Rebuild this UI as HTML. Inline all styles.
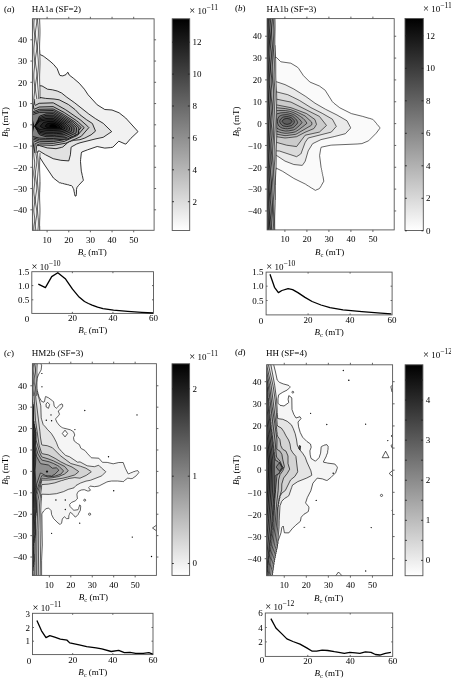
<!DOCTYPE html><html><head><meta charset="utf-8"><style>html,body{margin:0;padding:0;background:#fff;overflow:hidden}</style></head><body><svg width="451" height="678" viewBox="0 0 451 678" style="display:block;font-family:'Liberation Serif',serif;">
<rect width="451" height="678" fill="#fff"/>
<defs>
<clipPath id="clipa"><rect x="32.4" y="18.8" width="121.70" height="211.50"/></clipPath>
<linearGradient id="grada" x1="0" y1="1" x2="0" y2="0"><stop offset="0" stop-color="#fff"/><stop offset="1" stop-color="#000"/></linearGradient>
<clipPath id="clipb"><rect x="267.1" y="18.6" width="127.10" height="211.30"/></clipPath>
<linearGradient id="gradb" x1="0" y1="1" x2="0" y2="0"><stop offset="0" stop-color="#fff"/><stop offset="1" stop-color="#000"/></linearGradient>
<clipPath id="clipc"><rect x="32.4" y="363.7" width="124.00" height="211.70"/></clipPath>
<linearGradient id="gradc" x1="0" y1="1" x2="0" y2="0"><stop offset="0" stop-color="#fff"/><stop offset="1" stop-color="#000"/></linearGradient>
<clipPath id="clipd"><rect x="266.7" y="364.8" width="125.90" height="210.90"/></clipPath>
<linearGradient id="gradd" x1="0" y1="1" x2="0" y2="0"><stop offset="0" stop-color="#fff"/><stop offset="1" stop-color="#000"/></linearGradient>
</defs>
<g clip-path="url(#clipa)">
<path d="M39.6 233.6 22.0 233.6 22.0 16.0 39.6 16.0 39.2 16.4 39.2 23.6 38.8 24.0 38.8 40.8 38.8 42.0 39.2 42.4 39.3 49.6 39.6 50.0 39.7 54.0 40.4 54.7 43.2 56.0 44.8 57.2 50.0 61.2 53.6 64.4 57.2 68.7 59.7 75.2 60.0 75.5 62.8 75.9 66.0 74.6 67.6 72.4 68.0 72.3 69.2 75.0 73.6 78.4 79.2 83.2 84.4 89.2 88.1 94.8 97.2 104.8 104.8 109.5 112.0 110.0 119.1 112.8 125.7 118.0 138.0 131.6 130.8 138.4 126.0 144.0 125.2 144.0 118.8 141.2 112.8 147.2 110.5 147.6 104.8 148.1 97.2 146.5 87.6 149.8 81.8 152.0 81.3 153.2 80.6 159.6 80.5 161.6 81.3 171.2 82.0 174.0 82.1 175.2 82.4 175.7 83.0 178.8 83.2 179.2 83.3 180.4 78.4 185.6 76.9 187.6 76.5 189.6 76.4 194.4 76.0 196.0 75.2 196.1 74.8 195.2 74.7 194.0 74.4 193.3 74.3 192.0 74.0 191.3 73.9 190.0 73.6 188.8 73.2 188.4 72.3 186.4 71.6 185.7 69.2 185.2 68.8 184.9 67.8 184.8 67.2 184.5 64.6 184.0 64.0 183.7 62.8 183.6 62.4 183.3 61.2 183.2 60.8 182.9 59.6 182.8 53.4 178.0 44.0 164.0 39.2 156.4 38.9 160.4 38.8 174.0 39.2 174.4 39.2 181.6 39.6 182.0 39.6 191.6 39.2 192.0 39.2 199.6 38.8 200.0 38.8 218.0 39.2 218.4 39.2 225.6 39.6 226.0 39.6 233.6Z" fill="#f1f1f1" fill-rule="evenodd" stroke="#000" stroke-width="0.8" stroke-linejoin="round"/>
<path d="M37.6 233.6 22.0 233.6 22.0 16.0 37.6 16.0 37.1 32.8 37.7 54.8 37.1 78.8 37.2 83.6 37.6 85.7 42.0 85.9 47.5 89.2 52.4 89.8 57.2 91.0 61.6 93.0 66.8 97.2 74.8 102.9 88.8 114.0 95.7 118.8 103.2 123.3 111.7 131.6 103.2 137.3 96.0 138.8 80.0 142.8 76.7 144.0 71.6 146.8 71.1 147.2 70.4 154.8 68.8 160.9 60.8 160.3 53.2 158.7 45.6 154.8 39.6 151.2 39.2 151.0 38.0 151.0 37.7 152.0 37.2 158.8 37.1 164.0 37.7 185.6 37.1 208.8 37.6 227.2 37.6 233.6Z" fill="#e1e1e1" fill-rule="evenodd" stroke="#000" stroke-width="0.8" stroke-linejoin="round"/>
<path d="M35.6 233.6 22.0 233.6 22.0 16.0 35.6 16.0 35.3 33.2 35.6 56.4 35.3 78.4 35.6 94.8 36.0 97.2 39.2 97.3 45.6 98.4 54.0 99.0 59.2 99.8 68.4 104.5 75.1 109.6 80.0 114.8 86.4 119.6 92.4 123.5 95.4 130.8 95.4 131.2 91.1 134.8 84.9 138.0 80.0 139.7 73.2 140.4 72.4 140.8 71.6 140.8 70.4 141.6 69.6 141.6 68.4 142.4 68.0 142.4 62.8 147.0 61.6 147.4 56.0 148.7 47.2 147.9 40.9 146.0 40.0 145.9 39.6 145.6 36.7 145.6 36.5 146.4 35.3 161.2 35.6 186.0 35.3 208.8 35.6 233.6Z" fill="#d1d1d1" fill-rule="evenodd" stroke="#000" stroke-width="0.8" stroke-linejoin="round"/>
<path d="M33.6 233.6 22.0 233.6 22.0 16.0 33.6 16.0 33.5 77.2 33.6 94.8 34.8 104.7 35.0 105.2 35.2 105.3 35.6 105.2 39.2 103.3 53.2 102.8 53.6 103.0 65.6 109.7 80.8 120.2 87.8 126.4 88.9 127.6 81.2 136.4 74.0 139.6 72.4 140.1 71.2 140.8 70.8 140.8 70.4 141.2 69.6 141.2 69.2 141.6 68.8 141.6 68.4 142.0 68.0 142.0 67.6 142.4 65.8 143.2 53.2 145.4 39.2 144.9 35.6 143.5 35.2 143.6 33.5 160.0 33.6 233.6Z" fill="#c1c1c1" fill-rule="evenodd" stroke="#000" stroke-width="0.8" stroke-linejoin="round"/>
<path d="M31.2 233.6 22.0 233.6 22.0 16.0 31.6 16.0 31.6 94.8 33.9 109.2 34.3 109.2 39.2 107.0 53.2 106.6 64.4 112.6 76.4 120.6 78.4 122.2 84.2 127.6 77.6 135.3 64.0 141.5 53.2 143.4 39.6 143.1 34.4 141.2 34.0 141.6 31.7 160.0 31.6 233.6 31.2 233.6Z" fill="#b1b1b1" fill-rule="evenodd" stroke="#000" stroke-width="0.8" stroke-linejoin="round"/>
<path d="M29.2 233.6 22.0 233.6 22.0 16.0 29.6 16.0 29.9 33.2 29.6 56.4 29.9 77.2 29.6 94.8 31.3 102.8 32.4 110.0 32.9 111.2 33.2 111.6 33.6 111.5 39.2 109.3 53.2 109.0 63.2 114.2 74.8 121.8 80.9 127.2 81.1 127.6 78.8 130.4 78.6 133.6 78.4 133.8 78.0 133.8 77.6 134.2 77.2 134.3 76.8 134.7 76.4 134.7 76.0 135.1 74.8 135.5 74.4 135.9 74.0 135.9 73.6 136.3 73.2 136.3 72.8 136.6 72.4 136.7 72.0 137.0 71.2 137.1 70.0 137.9 69.6 137.9 69.2 138.3 68.8 138.3 68.4 138.7 68.0 138.7 67.6 139.0 64.8 139.2 64.4 139.6 63.2 139.9 53.2 141.6 39.6 141.3 33.6 139.4 33.4 139.6 32.4 142.0 31.1 152.0 29.8 160.0 29.6 187.2 29.9 211.6 29.6 233.6 29.2 233.6Z" fill="#a1a1a1" fill-rule="evenodd" stroke="#000" stroke-width="0.8" stroke-linejoin="round"/>
<path d="M27.2 233.6 22.0 233.6 22.0 16.0 27.6 16.0 28.1 33.2 27.5 56.4 28.1 77.2 27.6 94.8 29.6 102.8 31.0 110.0 32.3 112.8 32.4 113.0 33.6 112.8 39.6 110.8 53.2 110.5 62.2 115.2 73.2 122.3 78.9 127.6 78.8 129.2 78.4 130.4 78.4 133.6 78.0 133.6 77.6 134.0 77.2 134.0 76.8 134.4 76.4 134.4 76.0 134.8 74.8 135.2 74.4 135.6 74.0 135.6 73.6 136.0 73.2 136.0 72.8 136.4 72.4 136.4 72.0 136.8 71.2 136.8 70.0 137.6 69.6 137.6 69.2 138.0 68.8 138.0 68.4 138.4 68.0 138.4 67.6 138.8 64.8 138.9 64.4 139.2 53.2 140.0 39.6 139.7 33.6 138.0 32.7 138.0 30.9 142.0 29.3 152.8 28.0 160.0 28.0 168.4 27.5 187.2 28.1 210.8 27.6 226.4 27.6 233.6 27.2 233.6Z" fill="#919191" fill-rule="evenodd" stroke="#000" stroke-width="0.8" stroke-linejoin="round"/>
<path d="M25.2 233.6 22.0 233.6 22.0 16.0 25.6 16.0 26.3 33.2 25.6 50.4 25.5 56.4 26.3 77.2 25.6 94.8 28.0 103.1 29.6 110.0 31.6 114.0 32.0 114.4 33.6 114.3 39.4 112.4 53.2 112.1 61.5 116.4 70.9 122.4 76.6 127.6 76.2 132.4 76.0 133.0 66.0 137.6 53.2 138.5 45.6 138.4 39.2 138.1 34.0 136.8 33.6 136.5 32.4 136.4 32.0 136.8 30.8 139.6 29.5 142.0 27.5 153.6 26.2 160.0 26.2 168.4 25.5 187.2 26.2 204.4 26.2 210.8 25.6 226.4 25.5 233.6 25.2 233.6Z" fill="#818181" fill-rule="evenodd" stroke="#000" stroke-width="0.8" stroke-linejoin="round"/>
<path d="M23.2 233.6 22.0 233.6 22.0 16.0 23.6 16.0 24.4 30.8 24.4 37.2 23.6 49.6 23.5 55.2 23.6 60.8 24.4 72.4 24.4 78.4 23.6 94.8 26.4 103.3 28.3 110.0 30.2 113.2 31.6 116.8 33.9 126.0 32.5 132.0 31.4 135.6 29.8 139.2 28.0 142.0 25.7 154.0 24.3 160.0 24.4 168.4 23.6 181.6 23.5 187.2 23.6 192.8 24.4 204.4 24.4 210.4 23.6 226.8 23.5 233.6 23.2 233.6ZM54.8 136.8 46.0 136.7 40.0 135.0 39.3 134.4 37.6 131.6 37.6 131.2 37.2 130.8 37.2 130.4 35.6 128.0 35.6 127.6 35.2 127.2 35.2 126.8 34.8 126.4 34.8 126.0 35.2 125.6 35.2 125.2 36.0 124.0 36.5 122.4 37.2 121.2 37.2 120.8 37.6 120.4 37.6 120.0 38.0 119.6 38.9 117.2 39.6 116.1 46.0 113.9 53.2 113.6 60.8 117.5 69.6 123.1 74.2 127.6 73.8 132.0 73.3 132.4 64.8 136.1 54.8 136.8Z" fill="#707070" fill-rule="evenodd" stroke="#000" stroke-width="0.8" stroke-linejoin="round"/>
<path d="M22.0 44.6 22.0 21.4 22.5 28.0 22.6 32.8 22.5 38.0 22.0 44.6ZM22.0 88.5 22.0 65.4 22.5 72.0 22.6 76.8 22.5 82.0 22.0 88.5ZM22.0 176.5 22.0 96.1 24.8 103.4 26.9 110.0 29.0 113.2 30.7 116.8 31.9 120.8 33.1 126.0 32.0 130.8 30.5 135.2 28.8 138.8 26.6 142.0 23.9 154.4 22.5 160.0 22.6 167.6 22.0 176.5ZM56.4 135.2 53.2 135.4 46.0 135.2 39.6 133.6 36.1 128.0 34.9 126.4 35.0 126.0 35.6 125.1 39.6 117.5 46.0 115.4 53.2 115.2 60.0 118.6 67.6 123.4 71.9 127.6 71.5 131.2 71.1 131.6 63.6 134.7 56.4 135.2ZM22.0 220.5 22.0 197.3 22.5 204.0 22.6 208.8 22.5 214.0 22.0 220.5Z" fill="#606060" fill-rule="evenodd" stroke="#000" stroke-width="0.8" stroke-linejoin="round"/>
<path d="M22.0 155.4 22.0 100.6 25.5 110.0 27.9 113.2 29.7 116.8 31.1 120.8 32.4 126.0 31.2 130.8 29.5 135.2 27.6 138.8 25.1 142.0 22.0 155.4ZM56.8 133.6 53.2 133.8 46.0 133.7 40.0 132.4 39.2 131.8 35.0 126.4 35.1 126.0 39.6 118.7 46.0 116.9 53.5 116.8 59.0 119.6 66.0 123.9 69.6 127.6 69.2 130.4 68.8 130.8 62.4 133.2 56.8 133.6Z" fill="#505050" fill-rule="evenodd" stroke="#000" stroke-width="0.8" stroke-linejoin="round"/>
<path d="M22.0 148.5 22.0 104.6 24.1 110.0 26.8 113.2 28.8 116.8 30.4 120.9 31.7 126.0 30.4 130.8 28.5 135.2 26.4 138.8 23.6 142.0 22.0 148.5ZM59.2 132.0 53.2 132.3 46.0 132.2 40.0 131.2 39.2 130.7 35.1 126.4 35.6 125.5 39.6 119.9 46.0 118.5 53.2 118.3 58.0 120.6 64.0 124.2 67.2 127.6 66.8 129.6 66.5 130.0 61.2 131.8 59.2 132.0Z" fill="#404040" fill-rule="evenodd" stroke="#000" stroke-width="0.8" stroke-linejoin="round"/>
<path d="M22.0 142.7 22.0 108.2 22.7 110.0 25.6 113.1 27.9 116.8 29.6 120.8 31.1 126.0 29.6 130.8 27.8 134.8 25.6 138.2 24.0 140.2 22.2 142.0 22.0 142.7ZM60.0 130.1 53.2 130.4 46.0 130.3 39.8 129.6 36.9 127.6 35.6 126.5 35.2 126.4 36.0 125.2 39.6 121.2 46.0 119.9 53.2 119.8 57.2 121.7 62.0 124.5 64.8 127.5 64.4 128.9 60.0 130.1Z" fill="#303030" fill-rule="evenodd" stroke="#000" stroke-width="0.8" stroke-linejoin="round"/>
<path d="M22.0 140.9 22.0 110.5 24.8 113.5 27.0 116.8 28.8 120.8 30.4 126.0 28.9 130.4 27.0 134.4 24.8 137.8 22.0 140.9ZM57.6 128.8 48.0 128.9 43.6 128.4 40.2 126.4 40.4 125.9 43.5 122.4 48.0 121.5 53.2 121.4 56.4 122.8 60.4 125.0 62.5 127.6 62.0 128.2 59.6 128.7 57.6 128.8Z" fill="#202020" fill-rule="evenodd" stroke="#000" stroke-width="0.8" stroke-linejoin="round"/>
<path d="M22.0 139.6 22.0 111.7 24.4 114.4 26.5 117.6 28.2 121.2 29.8 126.0 28.3 130.0 26.6 133.6 24.4 136.8 22.0 139.6ZM60.0 127.6 57.2 127.9 50.0 127.9 47.2 127.6 45.2 126.4 45.3 126.0 47.2 123.7 50.0 123.1 53.2 123.0 55.8 124.0 58.8 125.6 60.0 127.2 60.0 127.6Z" fill="#101010" fill-rule="evenodd" stroke="#000" stroke-width="0.8" stroke-linejoin="round"/>
<path d="M22.0 138.3 22.0 112.9 24.3 115.6 26.1 118.4 27.8 122.0 29.1 126.0 27.7 129.6 26.1 132.8 24.3 135.6 22.0 138.3ZM56.8 127.2 53.2 127.2 50.4 126.9 49.7 126.4 49.7 126.0 50.4 125.0 50.7 124.8 53.2 124.5 54.8 125.1 56.4 126.0 56.8 126.8 56.8 127.2Z" fill="#000000" fill-rule="evenodd" stroke="#000" stroke-width="0.8" stroke-linejoin="round"/>
<linearGradient id="ega1" gradientUnits="userSpaceOnUse" x1="32.4" y1="0" x2="39.8" y2="0"><stop offset="0" stop-color="#e6e6e6"/><stop offset="1" stop-color="#fbfbfb"/></linearGradient><polygon points="30.4,16.0 39.8,16.0 39.8,17.0 39.8,18.0 39.8,19.0 39.8,20.0 39.8,21.0 39.8,22.0 39.8,23.0 39.8,24.0 39.8,25.0 39.8,26.0 39.8,27.0 39.8,28.0 39.8,29.0 39.8,30.0 39.8,31.0 39.8,32.0 39.8,33.0 39.8,34.0 39.8,35.0 39.8,36.0 39.8,37.0 39.8,38.0 39.8,39.0 39.8,40.0 39.8,41.0 39.8,42.0 39.8,43.0 39.8,44.0 39.8,45.0 39.8,46.0 39.8,47.0 39.8,48.0 39.8,49.0 39.8,50.0 39.8,51.0 39.8,52.0 39.8,53.0 39.8,54.0 39.8,55.0 39.8,56.0 39.8,57.0 39.8,58.0 39.8,59.0 39.8,60.0 39.8,61.0 39.8,62.0 39.8,63.0 39.8,64.0 39.8,65.0 39.8,66.0 39.8,67.0 39.8,68.0 39.8,69.0 39.8,70.0 39.8,71.0 39.8,72.0 39.8,73.0 39.8,74.0 39.8,75.0 39.8,76.0 39.8,77.0 39.8,78.0 39.8,79.0 39.8,80.0 39.8,81.0 39.8,82.0 39.8,83.0 39.8,84.0 39.8,85.0 39.8,86.0 39.8,87.0 39.8,88.0 39.8,89.0 39.8,90.0 39.8,91.0 39.8,92.0 39.8,93.0 39.8,94.0 39.8,95.0 39.8,96.0 39.8,97.0 39.8,98.0 39.8,99.0 30.4,99.0" fill="url(#ega1)"/><polyline points="39.59,16.0 39.59,17.0 39.60,18.0 39.62,19.0 39.65,20.0 39.68,21.0 39.72,22.0 39.76,23.0 39.80,24.0 39.85,25.0 39.89,26.0 39.92,27.0 39.96,28.0 39.98,29.0 40.00,30.0 40.01,31.0 40.01,32.0 40.00,33.0 39.98,34.0 39.96,35.0 39.93,36.0 39.89,37.0 39.85,38.0 39.81,39.0 39.77,40.0 39.73,41.0 39.69,42.0 39.65,43.0 39.63,44.0 39.61,45.0 39.59,46.0 39.59,47.0 39.59,48.0 39.61,49.0 39.63,50.0 39.66,51.0 39.69,52.0 39.73,53.0 39.77,54.0 39.82,55.0 39.86,56.0 39.90,57.0 39.93,58.0 39.96,59.0 39.99,60.0 40.00,61.0 40.01,62.0 40.01,63.0 40.00,64.0 39.98,65.0 39.95,66.0 39.92,67.0 39.88,68.0 39.84,69.0 39.80,70.0 39.76,71.0 39.72,72.0 39.68,73.0 39.65,74.0 39.62,75.0 39.60,76.0 39.59,77.0 39.59,78.0 39.60,79.0 39.61,80.0 39.64,81.0 39.67,82.0 39.70,83.0 39.74,84.0 39.78,85.0 39.83,86.0 39.87,87.0 39.91,88.0 39.94,89.0 39.97,90.0 39.99,91.0 40.01,92.0 40.01,93.0 40.01,94.0 39.99,95.0 39.97,96.0 39.94,97.0 39.91,98.0 39.87,99.0" fill="none" stroke="#000" stroke-width="0.6"/><polyline points="37.51,16.0 37.50,17.0 37.50,18.0 37.53,19.0 37.57,20.0 37.63,21.0 37.70,22.0 37.78,23.0 37.86,24.0 37.95,25.0 38.04,26.0 38.13,27.0 38.21,28.0 38.28,29.0 38.34,30.0 38.38,31.0 38.40,32.0 38.40,33.0 38.39,34.0 38.36,35.0 38.32,36.0 38.25,37.0 38.18,38.0 38.10,39.0 38.01,40.0 37.92,41.0 37.83,42.0 37.75,43.0 37.67,44.0 37.60,45.0 37.55,46.0 37.52,47.0 37.50,48.0 37.50,49.0 37.51,50.0 37.55,51.0 37.60,52.0 37.66,53.0 37.74,54.0 37.82,55.0 37.91,56.0 38.01,57.0 38.09,58.0 38.18,59.0 38.25,60.0 38.31,61.0 38.36,62.0 38.39,63.0 38.40,64.0 38.40,65.0 38.38,66.0 38.34,67.0 38.28,68.0 38.22,69.0 38.14,70.0 38.05,71.0 37.96,72.0 37.87,73.0 37.78,74.0 37.70,75.0 37.63,76.0 37.57,77.0 37.53,78.0 37.50,79.0 37.50,80.0 37.50,81.0 37.53,82.0 37.58,83.0 37.63,84.0 37.71,85.0 37.79,86.0 37.87,87.0 37.96,88.0 38.05,89.0 38.14,90.0 38.22,91.0 38.29,92.0 38.34,93.0 38.38,94.0 38.40,95.0 38.40,96.0 38.39,97.0 38.36,98.0 38.31,99.0" fill="none" stroke="#000" stroke-width="0.6"/><polyline points="36.46,16.0 36.59,17.0 36.69,18.0 36.76,19.0 36.80,20.0 36.79,21.0 36.75,22.0 36.68,23.0 36.57,24.0 36.44,25.0 36.28,26.0 36.12,27.0 35.96,28.0 35.80,29.0 35.66,30.0 35.55,31.0 35.46,32.0 35.41,33.0 35.40,34.0 35.43,35.0 35.49,36.0 35.58,37.0 35.71,38.0 35.85,39.0 36.01,40.0 36.17,41.0 36.33,42.0 36.48,43.0 36.61,44.0 36.71,45.0 36.77,46.0 36.80,47.0 36.79,48.0 36.74,49.0 36.66,50.0 36.55,51.0 36.41,52.0 36.26,53.0 36.09,54.0 35.93,55.0 35.78,56.0 35.64,57.0 35.53,58.0 35.45,59.0 35.41,60.0 35.40,61.0 35.43,62.0 35.50,63.0 35.60,64.0 35.73,65.0 35.88,66.0 36.04,67.0 36.20,68.0 36.36,69.0 36.51,70.0 36.63,71.0 36.72,72.0 36.78,73.0 36.80,74.0 36.78,75.0 36.73,76.0 36.64,77.0 36.52,78.0 36.38,79.0 36.23,80.0 36.06,81.0 35.90,82.0 35.75,83.0 35.62,84.0 35.51,85.0 35.44,86.0 35.40,87.0 35.41,88.0 35.44,89.0 35.52,90.0 35.63,91.0 35.76,92.0 35.91,93.0 36.07,94.0 36.23,95.0 36.39,96.0 36.53,97.0 36.65,98.0 36.73,99.0" fill="none" stroke="#000" stroke-width="0.6"/><polyline points="34.53,16.0 34.43,17.0 34.32,18.0 34.21,19.0 34.10,20.0 34.00,21.0 33.92,22.0 33.85,23.0 33.81,24.0 33.80,25.0 33.81,26.0 33.85,27.0 33.91,28.0 34.00,29.0 34.10,30.0 34.21,31.0 34.32,32.0 34.43,33.0 34.53,34.0 34.61,35.0 34.66,36.0 34.70,37.0 34.70,38.0 34.68,39.0 34.63,40.0 34.56,41.0 34.47,42.0 34.37,43.0 34.26,44.0 34.15,45.0 34.04,46.0 33.95,47.0 33.87,48.0 33.82,49.0 33.80,50.0 33.80,51.0 33.83,52.0 33.88,53.0 33.96,54.0 34.06,55.0 34.16,56.0 34.27,57.0 34.39,58.0 34.49,59.0 34.58,60.0 34.64,61.0 34.69,62.0 34.70,63.0 34.69,64.0 34.66,65.0 34.60,66.0 34.51,67.0 34.41,68.0 34.30,69.0 34.19,70.0 34.08,71.0 33.98,72.0 33.90,73.0 33.84,74.0 33.80,75.0 33.80,76.0 33.81,77.0 33.86,78.0 33.93,79.0 34.02,80.0 34.12,81.0 34.23,82.0 34.34,83.0 34.45,84.0 34.54,85.0 34.62,86.0 34.67,87.0 34.70,88.0 34.70,89.0 34.68,90.0 34.62,91.0 34.55,92.0 34.46,93.0 34.35,94.0 34.24,95.0 34.13,96.0 34.02,97.0 33.93,98.0 33.86,99.0" fill="none" stroke="#000" stroke-width="0.6"/><polyline points="32.50,16.0 32.55,17.0 32.59,18.0 32.61,19.0 32.61,20.0 32.59,21.0 32.55,22.0 32.50,23.0 32.44,24.0 32.37,25.0 32.31,26.0 32.26,27.0 32.22,28.0 32.19,29.0 32.19,30.0 32.21,31.0 32.24,32.0 32.29,33.0 32.35,34.0 32.41,35.0 32.48,36.0 32.53,37.0 32.58,38.0 32.60,39.0 32.61,40.0 32.60,41.0 32.57,42.0 32.52,43.0 32.46,44.0 32.40,45.0 32.34,46.0 32.28,47.0 32.23,48.0 32.20,49.0 32.19,50.0 32.20,51.0 32.22,52.0 32.27,53.0 32.32,54.0 32.39,55.0 32.45,56.0 32.51,57.0 32.56,58.0 32.59,59.0 32.61,60.0 32.61,61.0 32.58,62.0 32.54,63.0 32.49,64.0 32.43,65.0 32.36,66.0 32.30,67.0 32.25,68.0 32.21,69.0 32.19,70.0 32.19,71.0 32.21,72.0 32.25,73.0 32.30,74.0 32.36,75.0 32.42,76.0 32.49,77.0 32.54,78.0 32.58,79.0 32.60,80.0 32.61,81.0 32.59,82.0 32.56,83.0 32.51,84.0 32.45,85.0 32.39,86.0 32.33,87.0 32.27,88.0 32.23,89.0 32.20,90.0 32.19,91.0 32.20,92.0 32.23,93.0 32.28,94.0 32.33,95.0 32.40,96.0 32.46,97.0 32.52,98.0 32.57,99.0" fill="none" stroke="#000" stroke-width="0.6"/><linearGradient id="ega2" gradientUnits="userSpaceOnUse" x1="32.4" y1="0" x2="39.8" y2="0"><stop offset="0" stop-color="#e6e6e6"/><stop offset="1" stop-color="#fbfbfb"/></linearGradient><polygon points="30.4,153.0 39.8,153.0 39.8,154.0 39.8,155.0 39.8,156.0 39.8,157.0 39.8,158.0 39.8,159.0 39.8,160.0 39.8,161.0 39.8,162.0 39.8,163.0 39.8,164.0 39.8,165.0 39.8,166.0 39.8,167.0 39.8,168.0 39.8,169.0 39.8,170.0 39.8,171.0 39.8,172.0 39.8,173.0 39.8,174.0 39.8,175.0 39.8,176.0 39.8,177.0 39.8,178.0 39.8,179.0 39.8,180.0 39.8,181.0 39.8,182.0 39.8,183.0 39.8,184.0 39.8,185.0 39.8,186.0 39.8,187.0 39.8,188.0 39.8,189.0 39.8,190.0 39.8,191.0 39.8,192.0 39.8,193.0 39.8,194.0 39.8,195.0 39.8,196.0 39.8,197.0 39.8,198.0 39.8,199.0 39.8,200.0 39.8,201.0 39.8,202.0 39.8,203.0 39.8,204.0 39.8,205.0 39.8,206.0 39.8,207.0 39.8,208.0 39.8,209.0 39.8,210.0 39.8,211.0 39.8,212.0 39.8,213.0 39.8,214.0 39.8,215.0 39.8,216.0 39.8,217.0 39.8,218.0 39.8,219.0 39.8,220.0 39.8,221.0 39.8,222.0 39.8,223.0 39.8,224.0 39.8,225.0 39.8,226.0 39.8,227.0 39.8,228.0 39.8,229.0 39.8,230.0 39.8,231.0 39.8,232.0 39.8,233.0 39.8,234.0 30.4,234.0" fill="url(#ega2)"/><polyline points="40.00,153.0 39.99,154.0 39.96,155.0 39.93,156.0 39.90,157.0 39.85,158.0 39.81,159.0 39.76,160.0 39.72,161.0 39.68,162.0 39.65,163.0 39.62,164.0 39.60,165.0 39.59,166.0 39.59,167.0 39.60,168.0 39.62,169.0 39.64,170.0 39.68,171.0 39.72,172.0 39.76,173.0 39.81,174.0 39.85,175.0 39.89,176.0 39.93,177.0 39.96,178.0 39.99,179.0 40.00,180.0 40.01,181.0 40.01,182.0 39.99,183.0 39.97,184.0 39.95,185.0 39.91,186.0 39.87,187.0 39.83,188.0 39.78,189.0 39.74,190.0 39.70,191.0 39.66,192.0 39.63,193.0 39.61,194.0 39.59,195.0 39.59,196.0 39.60,197.0 39.61,198.0 39.63,199.0 39.67,200.0 39.70,201.0 39.75,202.0 39.79,203.0 39.83,204.0 39.88,205.0 39.92,206.0 39.95,207.0 39.98,208.0 40.00,209.0 40.01,210.0 40.01,211.0 40.00,212.0 39.98,213.0 39.96,214.0 39.92,215.0 39.88,216.0 39.84,217.0 39.80,218.0 39.75,219.0 39.71,220.0 39.67,221.0 39.64,222.0 39.61,223.0 39.60,224.0 39.59,225.0 39.59,226.0 39.60,227.0 39.63,228.0 39.65,229.0 39.69,230.0 39.73,231.0 39.77,232.0 39.82,233.0 39.86,234.0" fill="none" stroke="#000" stroke-width="0.6"/><polyline points="37.52,153.0 37.57,154.0 37.63,155.0 37.71,156.0 37.80,157.0 37.90,158.0 38.00,159.0 38.10,160.0 38.19,161.0 38.27,162.0 38.33,163.0 38.38,164.0 38.40,165.0 38.40,166.0 38.39,167.0 38.35,168.0 38.29,169.0 38.21,170.0 38.12,171.0 38.03,172.0 37.93,173.0 37.83,174.0 37.74,175.0 37.65,176.0 37.59,177.0 37.53,178.0 37.50,179.0 37.50,180.0 37.51,181.0 37.54,182.0 37.60,183.0 37.67,184.0 37.75,185.0 37.85,186.0 37.95,187.0 38.05,188.0 38.14,189.0 38.23,190.0 38.30,191.0 38.35,192.0 38.39,193.0 38.40,194.0 38.40,195.0 38.37,196.0 38.32,197.0 38.25,198.0 38.17,199.0 38.08,200.0 37.98,201.0 37.88,202.0 37.78,203.0 37.69,204.0 37.62,205.0 37.56,206.0 37.52,207.0 37.50,208.0 37.50,209.0 37.52,210.0 37.57,211.0 37.63,212.0 37.71,213.0 37.80,214.0 37.90,215.0 38.00,216.0 38.09,217.0 38.19,218.0 38.27,219.0 38.33,220.0 38.38,221.0 38.40,222.0 38.40,223.0 38.39,224.0 38.35,225.0 38.29,226.0 38.21,227.0 38.12,228.0 38.03,229.0 37.93,230.0 37.83,231.0 37.74,232.0 37.65,233.0 37.59,234.0" fill="none" stroke="#000" stroke-width="0.6"/><polyline points="35.79,153.0 35.95,154.0 36.12,155.0 36.29,156.0 36.45,157.0 36.59,158.0 36.69,159.0 36.77,160.0 36.80,161.0 36.79,162.0 36.74,163.0 36.65,164.0 36.53,165.0 36.38,166.0 36.22,167.0 36.05,168.0 35.88,169.0 35.73,170.0 35.60,171.0 35.49,172.0 35.43,173.0 35.40,174.0 35.42,175.0 35.47,176.0 35.56,177.0 35.69,178.0 35.84,179.0 36.00,180.0 36.17,181.0 36.34,182.0 36.49,183.0 36.62,184.0 36.72,185.0 36.78,186.0 36.80,187.0 36.78,188.0 36.72,189.0 36.62,190.0 36.49,191.0 36.34,192.0 36.17,193.0 36.00,194.0 35.84,195.0 35.69,196.0 35.56,197.0 35.47,198.0 35.42,199.0 35.40,200.0 35.43,201.0 35.49,202.0 35.60,203.0 35.73,204.0 35.88,205.0 36.05,206.0 36.22,207.0 36.38,208.0 36.53,209.0 36.65,210.0 36.74,211.0 36.79,212.0 36.80,213.0 36.77,214.0 36.69,215.0 36.59,216.0 36.45,217.0 36.29,218.0 36.12,219.0 35.95,220.0 35.79,221.0 35.65,222.0 35.53,223.0 35.45,224.0 35.41,225.0 35.40,226.0 35.44,227.0 35.52,228.0 35.63,229.0 35.77,230.0 35.93,231.0 36.10,232.0 36.27,233.0 36.43,234.0" fill="none" stroke="#000" stroke-width="0.6"/><polyline points="33.83,153.0 33.80,154.0 33.82,155.0 33.89,156.0 34.00,157.0 34.14,158.0 34.29,159.0 34.43,160.0 34.56,161.0 34.65,162.0 34.70,163.0 34.70,164.0 34.64,165.0 34.55,166.0 34.41,167.0 34.27,168.0 34.11,169.0 33.98,170.0 33.87,171.0 33.81,172.0 33.80,173.0 33.83,174.0 33.92,175.0 34.04,176.0 34.18,177.0 34.34,178.0 34.48,179.0 34.60,180.0 34.67,181.0 34.70,182.0 34.68,183.0 34.62,184.0 34.51,185.0 34.37,186.0 34.22,187.0 34.07,188.0 33.94,189.0 33.85,190.0 33.80,191.0 33.80,192.0 33.86,193.0 33.95,194.0 34.08,195.0 34.23,196.0 34.38,197.0 34.52,198.0 34.63,199.0 34.69,200.0 34.70,201.0 34.67,202.0 34.58,203.0 34.46,204.0 34.32,205.0 34.17,206.0 34.02,207.0 33.91,208.0 33.83,209.0 33.80,210.0 33.81,211.0 33.88,212.0 33.99,213.0 34.13,214.0 34.28,215.0 34.43,216.0 34.56,217.0 34.65,218.0 34.70,219.0 34.70,220.0 34.65,221.0 34.55,222.0 34.42,223.0 34.27,224.0 34.12,225.0 33.98,226.0 33.88,227.0 33.81,228.0 33.80,229.0 33.83,230.0 33.91,231.0 34.03,232.0 34.18,233.0 34.33,234.0" fill="none" stroke="#000" stroke-width="0.6"/><polyline points="32.56,153.0 32.53,154.0 32.48,155.0 32.43,156.0 32.38,157.0 32.33,158.0 32.28,159.0 32.24,160.0 32.21,161.0 32.20,162.0 32.19,163.0 32.20,164.0 32.22,165.0 32.25,166.0 32.29,167.0 32.34,168.0 32.39,169.0 32.44,170.0 32.49,171.0 32.54,172.0 32.57,173.0 32.60,174.0 32.61,175.0 32.61,176.0 32.59,177.0 32.57,178.0 32.53,179.0 32.49,180.0 32.44,181.0 32.39,182.0 32.33,183.0 32.29,184.0 32.25,185.0 32.22,186.0 32.20,187.0 32.19,188.0 32.20,189.0 32.22,190.0 32.25,191.0 32.29,192.0 32.33,193.0 32.38,194.0 32.44,195.0 32.49,196.0 32.53,197.0 32.57,198.0 32.59,199.0 32.61,200.0 32.61,201.0 32.60,202.0 32.57,203.0 32.54,204.0 32.49,205.0 32.45,206.0 32.39,207.0 32.34,208.0 32.29,209.0 32.25,210.0 32.22,211.0 32.20,212.0 32.19,213.0 32.19,214.0 32.21,215.0 32.24,216.0 32.28,217.0 32.33,218.0 32.38,219.0 32.43,220.0 32.48,221.0 32.53,222.0 32.56,223.0 32.59,224.0 32.61,225.0 32.61,226.0 32.60,227.0 32.58,228.0 32.54,229.0 32.50,230.0 32.45,231.0 32.40,232.0 32.35,233.0 32.30,234.0" fill="none" stroke="#000" stroke-width="0.6"/>
</g>
<g stroke="#555" stroke-width="0.9" fill="none">
<rect x="32.4" y="18.8" width="121.70" height="211.50"/>
<line x1="47.10" y1="230.3" x2="47.10" y2="232.3"/>
<line x1="47.10" y1="18.8" x2="47.10" y2="16.8"/>
<line x1="68.75" y1="230.3" x2="68.75" y2="232.3"/>
<line x1="68.75" y1="18.8" x2="68.75" y2="16.8"/>
<line x1="90.40" y1="230.3" x2="90.40" y2="232.3"/>
<line x1="90.40" y1="18.8" x2="90.40" y2="16.8"/>
<line x1="112.05" y1="230.3" x2="112.05" y2="232.3"/>
<line x1="112.05" y1="18.8" x2="112.05" y2="16.8"/>
<line x1="133.70" y1="230.3" x2="133.70" y2="232.3"/>
<line x1="133.70" y1="18.8" x2="133.70" y2="16.8"/>
<line x1="32.4" y1="209.80" x2="30.4" y2="209.80"/>
<line x1="154.1" y1="209.80" x2="156.1" y2="209.80"/>
<line x1="32.4" y1="188.55" x2="30.4" y2="188.55"/>
<line x1="154.1" y1="188.55" x2="156.1" y2="188.55"/>
<line x1="32.4" y1="167.30" x2="30.4" y2="167.30"/>
<line x1="154.1" y1="167.30" x2="156.1" y2="167.30"/>
<line x1="32.4" y1="146.05" x2="30.4" y2="146.05"/>
<line x1="154.1" y1="146.05" x2="156.1" y2="146.05"/>
<line x1="32.4" y1="124.80" x2="30.4" y2="124.80"/>
<line x1="154.1" y1="124.80" x2="156.1" y2="124.80"/>
<line x1="32.4" y1="103.55" x2="30.4" y2="103.55"/>
<line x1="154.1" y1="103.55" x2="156.1" y2="103.55"/>
<line x1="32.4" y1="82.30" x2="30.4" y2="82.30"/>
<line x1="154.1" y1="82.30" x2="156.1" y2="82.30"/>
<line x1="32.4" y1="61.05" x2="30.4" y2="61.05"/>
<line x1="154.1" y1="61.05" x2="156.1" y2="61.05"/>
<line x1="32.4" y1="39.80" x2="30.4" y2="39.80"/>
<line x1="154.1" y1="39.80" x2="156.1" y2="39.80"/>
</g>
<g fill="#000">
<text x="47.1" y="242.6" font-size="9" text-anchor="middle" >10</text>
<text x="68.8" y="242.6" font-size="9" text-anchor="middle" >20</text>
<text x="90.4" y="242.6" font-size="9" text-anchor="middle" >30</text>
<text x="112.0" y="242.6" font-size="9" text-anchor="middle" >40</text>
<text x="133.7" y="242.6" font-size="9" text-anchor="middle" >50</text>
<text x="27.1" y="213.0" font-size="9" text-anchor="end" >−40</text>
<text x="27.1" y="191.8" font-size="9" text-anchor="end" >−30</text>
<text x="27.1" y="170.5" font-size="9" text-anchor="end" >−20</text>
<text x="27.1" y="149.2" font-size="9" text-anchor="end" >−10</text>
<text x="27.1" y="128.0" font-size="9" text-anchor="end" >0</text>
<text x="27.1" y="106.8" font-size="9" text-anchor="end" >10</text>
<text x="27.1" y="85.5" font-size="9" text-anchor="end" >20</text>
<text x="27.1" y="64.2" font-size="9" text-anchor="end" >30</text>
<text x="27.1" y="43.0" font-size="9" text-anchor="end" >40</text>
<text x="92.2" y="255.3" font-size="9" text-anchor="middle"><tspan font-style="italic">B</tspan><tspan font-size="6.5" dy="2">c</tspan><tspan dy="-2"> (mT)</tspan></text>
<text transform="translate(7.7,121.9) rotate(-90)" font-size="9" text-anchor="middle"><tspan font-style="italic">B</tspan><tspan font-size="7.5" dy="2">b</tspan><tspan dy="-2"> (mT)</tspan></text>
<text x="3.9" y="11.5" font-size="9" text-anchor="start" >(<tspan font-style="italic">a</tspan>)</text>
<text x="31.8" y="11.5" font-size="9" text-anchor="start" >HA1a (SF=2)</text>
<rect x="172.2" y="18.8" width="17.50" height="211.70" fill="url(#grada)" stroke="#555" stroke-width="0.9"/>
<g stroke="#222" stroke-width="0.9">
<line x1="172.2" y1="201.70" x2="174.0" y2="201.70"/><line x1="189.7" y1="201.70" x2="187.89999999999998" y2="201.70"/>
<line x1="172.2" y1="169.80" x2="174.0" y2="169.80"/><line x1="189.7" y1="169.80" x2="187.89999999999998" y2="169.80"/>
<line x1="172.2" y1="137.90" x2="174.0" y2="137.90"/><line x1="189.7" y1="137.90" x2="187.89999999999998" y2="137.90"/>
<line x1="172.2" y1="106.00" x2="174.0" y2="106.00"/><line x1="189.7" y1="106.00" x2="187.89999999999998" y2="106.00"/>
<line x1="172.2" y1="74.10" x2="174.0" y2="74.10"/><line x1="189.7" y1="74.10" x2="187.89999999999998" y2="74.10"/>
<line x1="172.2" y1="42.20" x2="174.0" y2="42.20"/><line x1="189.7" y1="42.20" x2="187.89999999999998" y2="42.20"/>
</g>
<text x="192.5" y="204.6" font-size="9" text-anchor="start" >2</text>
<text x="192.5" y="172.7" font-size="9" text-anchor="start" >4</text>
<text x="192.5" y="140.8" font-size="9" text-anchor="start" >6</text>
<text x="192.5" y="108.9" font-size="9" text-anchor="start" >8</text>
<text x="192.5" y="77.0" font-size="9" text-anchor="start" >10</text>
<text x="192.5" y="45.1" font-size="9" text-anchor="start" >12</text>
<text x="189.3" y="14.0" font-size="9"><tspan font-size="10.5">×</tspan> 10<tspan font-size="7.6" dy="-3.6">−11</tspan></text>
<g stroke="#555" stroke-width="0.9" fill="none">
<rect x="31.8" y="271.7" width="121.70" height="41.70"/>
<line x1="72.37" y1="313.4" x2="72.37" y2="311.9"/><line x1="72.37" y1="271.7" x2="72.37" y2="273.2"/>
<line x1="112.93" y1="313.4" x2="112.93" y2="311.9"/><line x1="112.93" y1="271.7" x2="112.93" y2="273.2"/>
<line x1="31.8" y1="285.6" x2="33.3" y2="285.6"/><line x1="153.5" y1="285.6" x2="152.0" y2="285.6"/>
<line x1="31.8" y1="299.8" x2="33.3" y2="299.8"/><line x1="153.5" y1="299.8" x2="152.0" y2="299.8"/>
</g>
<text x="29.3" y="274.7" font-size="9" text-anchor="end" >1.5</text>
<text x="29.3" y="288.8" font-size="9" text-anchor="end" >1.0</text>
<text x="29.3" y="303.0" font-size="9" text-anchor="end" >0.5</text>
<text x="27.0" y="322.3" font-size="9" text-anchor="middle" >0</text>
<text x="72.4" y="321.4" font-size="9" text-anchor="middle" >20</text>
<text x="112.9" y="321.4" font-size="9" text-anchor="middle" >40</text>
<text x="153.5" y="321.4" font-size="9" text-anchor="middle" >60</text>
<text x="92.7" y="333.4" font-size="9" text-anchor="middle"><tspan font-style="italic">B</tspan><tspan font-size="6.5" dy="2">c</tspan><tspan dy="-2"> (mT)</tspan></text>
<text x="31.6" y="269.5" font-size="9"><tspan font-size="10.5">×</tspan> 10<tspan font-size="7.6" dy="-3.6">−10</tspan></text>
<polyline fill="none" stroke="#000" stroke-width="1.3" stroke-linejoin="round" points="38.3,284.1 45.4,287.6 51.7,276.6 57.8,272.7 65.6,279.1 72.5,289.2 78.5,296.4 84.5,301.5 88.4,303.5 92.1,305.1 97.6,307.2 103.0,308.6 113.5,310.2 127.7,311.4 141.9,312.3 153.0,313.0"/>
</g>
<g clip-path="url(#clipb)">
<path d="M274.6 232.8 257.0 232.8 257.0 16.0 274.6 16.0 274.6 44.8 275.0 45.2 275.1 55.6 275.1 56.8 275.4 57.5 276.6 57.6 280.6 61.6 281.0 61.8 290.8 63.2 297.5 67.2 298.6 68.4 303.4 75.6 309.8 82.0 319.4 86.0 325.4 90.4 325.5 90.8 332.3 101.6 333.8 103.1 339.8 107.8 351.4 113.6 362.7 116.4 369.0 118.3 369.8 118.4 371.8 119.1 372.6 119.2 374.2 120.8 376.6 123.6 377.1 124.4 378.6 126.0 379.8 127.6 379.9 128.0 379.8 128.4 376.2 133.2 368.6 140.8 361.9 143.6 357.1 144.0 331.8 145.1 330.2 145.3 321.2 147.2 320.7 148.8 319.6 155.6 321.1 167.6 321.4 168.4 321.5 169.6 321.8 170.4 321.9 171.6 322.2 172.4 322.3 173.6 322.6 174.4 322.7 175.6 323.0 176.4 323.8 181.2 321.5 185.2 321.4 185.6 319.6 188.4 319.0 188.8 315.8 190.1 315.4 190.4 311.8 188.1 311.4 188.0 308.6 186.1 308.2 186.0 305.4 184.1 293.8 178.4 282.6 171.3 277.0 168.5 276.2 168.2 275.9 168.4 275.8 170.0 275.4 170.4 275.4 184.8 275.0 185.2 275.0 200.0 274.6 200.4 274.6 232.8Z" fill="#fafafa" fill-rule="evenodd" stroke="#000" stroke-width="0.6" stroke-linejoin="round"/>
<path d="M270.2 232.8 257.0 232.8 257.0 16.0 270.7 16.0 270.8 45.2 271.4 81.7 276.6 81.8 285.0 84.6 293.8 89.0 305.8 96.5 315.0 103.2 325.4 109.2 337.0 115.0 347.0 120.8 350.6 127.6 350.7 128.0 345.4 133.7 334.2 136.6 321.0 139.6 312.6 143.7 308.2 150.9 305.2 161.2 302.8 164.8 302.2 165.4 293.8 164.5 285.0 161.1 276.6 155.5 271.8 155.4 271.4 155.5 270.8 200.0 270.6 232.8 270.2 232.8Z" fill="#eaeaea" fill-rule="evenodd" stroke="#000" stroke-width="0.6" stroke-linejoin="round"/>
<path d="M266.2 232.8 257.0 232.8 257.0 16.0 266.5 16.0 266.6 91.8 276.6 91.9 287.8 94.7 292.6 97.0 299.4 100.4 310.9 107.6 322.2 113.3 332.4 119.2 336.3 126.4 331.4 132.0 331.0 132.2 308.2 138.0 305.4 142.0 305.0 142.8 301.0 153.6 300.7 154.0 296.6 156.7 279.4 151.0 266.5 150.4 266.5 232.8 266.2 232.8Z" fill="#dbdbdb" fill-rule="evenodd" stroke="#000" stroke-width="0.6" stroke-linejoin="round"/>
<path d="M262.2 232.8 257.0 232.8 257.0 16.0 262.4 16.0 262.2 45.2 261.5 98.8 261.8 99.1 276.2 99.1 291.0 102.1 319.4 116.4 326.3 125.2 326.4 125.6 319.4 132.1 305.2 135.2 296.6 146.6 286.6 145.2 276.6 142.4 261.6 142.4 261.5 145.2 262.3 200.0 262.4 232.8 262.2 232.8Z" fill="#cbcbcb" fill-rule="evenodd" stroke="#000" stroke-width="0.6" stroke-linejoin="round"/>
<path d="M257.0 77.5 257.0 16.0 258.2 16.0 258.0 45.2 257.0 77.5ZM288.2 137.7 285.0 138.0 276.6 136.7 268.2 136.7 267.9 136.4 267.9 110.4 267.9 105.2 268.2 104.9 276.6 104.9 291.0 107.7 306.6 113.6 315.0 119.6 316.5 124.4 314.3 128.0 313.8 128.6 305.0 132.3 296.6 136.7 288.2 137.7ZM258.2 232.8 257.0 232.8 257.0 163.7 258.0 200.0 258.4 232.8 258.2 232.8Z" fill="#bcbcbc" fill-rule="evenodd" stroke="#000" stroke-width="0.6" stroke-linejoin="round"/>
<path d="M286.2 135.6 285.0 135.7 276.6 134.1 271.4 133.4 271.2 133.2 270.5 126.4 270.3 120.8 270.6 114.8 271.4 108.3 276.6 107.7 285.4 108.6 290.6 109.6 296.9 112.0 305.0 115.9 311.6 122.0 312.0 124.0 311.4 125.2 311.0 125.5 297.2 133.6 295.8 134.3 286.2 135.6Z" fill="#acacac" fill-rule="evenodd" stroke="#000" stroke-width="0.6" stroke-linejoin="round"/>
<path d="M287.8 133.2 285.0 133.3 281.4 132.7 274.2 130.6 274.0 130.4 272.9 125.2 272.7 120.8 273.1 116.4 274.3 111.2 275.8 110.7 278.6 110.5 285.4 110.6 289.8 111.3 293.0 112.4 297.0 114.3 300.4 116.4 303.1 118.4 304.7 120.0 307.0 123.2 304.2 125.6 298.9 129.6 295.4 131.8 293.1 132.4 287.8 133.2Z" fill="#9d9d9d" fill-rule="evenodd" stroke="#000" stroke-width="0.6" stroke-linejoin="round"/>
<path d="M288.6 130.9 285.4 131.1 281.8 130.4 279.4 129.6 276.5 128.0 275.3 124.0 275.0 120.8 275.6 117.2 276.6 114.4 277.0 113.8 281.0 112.8 285.8 112.6 288.2 112.9 291.8 113.9 294.6 115.2 297.8 117.6 299.5 119.2 301.4 121.6 301.9 122.4 301.9 122.8 299.4 125.6 295.7 128.8 294.6 129.5 293.4 130.0 288.6 130.9Z" fill="#8d8d8d" fill-rule="evenodd" stroke="#000" stroke-width="0.6" stroke-linejoin="round"/>
<path d="M287.4 128.8 285.4 128.7 282.2 128.1 280.6 127.3 278.9 126.0 277.7 123.6 277.3 121.2 277.8 118.8 279.1 116.4 281.0 115.4 282.2 115.0 286.2 114.6 287.8 114.7 291.4 115.7 292.6 116.2 295.6 118.8 296.6 120.0 297.2 121.2 297.7 122.8 296.9 124.0 294.2 126.8 293.4 127.4 292.2 127.9 287.4 128.8Z" fill="#7d7d7d" fill-rule="evenodd" stroke="#000" stroke-width="0.6" stroke-linejoin="round"/>
<path d="M288.2 126.4 286.6 126.6 283.0 125.9 281.2 124.4 280.1 122.8 279.7 121.6 279.7 120.8 280.0 120.0 280.8 118.8 282.6 117.3 283.4 117.0 286.6 116.5 288.6 116.8 291.4 117.6 294.0 120.4 294.3 121.2 294.3 122.4 293.9 123.2 292.6 124.8 291.4 125.7 288.2 126.4Z" fill="#6e6e6e" fill-rule="evenodd" stroke="#000" stroke-width="0.6" stroke-linejoin="round"/>
<path d="M287.0 124.4 283.9 123.6 282.3 121.6 282.1 121.2 283.8 119.2 284.9 118.8 287.0 118.3 290.3 119.2 291.9 121.2 291.8 121.6 290.3 123.6 287.0 124.4Z" fill="#5e5e5e" fill-rule="evenodd" stroke="#000" stroke-width="0.6" stroke-linejoin="round"/>
<linearGradient id="egb" gradientUnits="userSpaceOnUse" x1="266.5" y1="0" x2="276.6" y2="0"><stop offset="0" stop-color="#333333"/><stop offset="1" stop-color="#f2f2f2"/></linearGradient><polygon points="264.5,16.0 274.8,16.0 274.8,17.0 274.8,18.0 274.8,19.0 274.8,20.0 274.8,21.0 274.8,22.0 274.8,23.0 274.9,24.0 274.9,25.0 274.9,26.0 274.9,27.0 274.9,28.0 274.9,29.0 274.9,30.0 274.9,31.0 274.9,32.0 274.9,33.0 274.9,34.0 274.9,35.0 274.9,36.0 274.9,37.0 275.0,38.0 275.0,39.0 275.0,40.0 275.0,41.0 275.0,42.0 275.0,43.0 275.0,44.0 275.0,45.0 275.0,46.0 275.1,47.0 275.1,48.0 275.1,49.0 275.2,50.0 275.2,51.0 275.2,52.0 275.3,53.0 275.3,54.0 275.3,55.0 275.4,56.0 275.4,57.0 275.4,58.0 275.4,59.0 275.5,60.0 275.5,61.0 275.5,62.0 275.6,63.0 275.6,64.0 275.6,65.0 275.7,66.0 275.7,67.0 275.7,68.0 275.8,69.0 275.8,70.0 275.8,71.0 275.9,72.0 275.9,73.0 275.9,74.0 275.9,75.0 276.0,76.0 276.0,77.0 276.0,78.0 276.0,79.0 276.1,80.0 276.1,81.0 276.1,82.0 276.1,83.0 276.2,84.0 276.2,85.0 276.2,86.0 276.3,87.0 276.3,88.0 276.3,89.0 276.3,90.0 276.4,91.0 276.4,92.0 276.4,93.0 276.4,94.0 276.5,95.0 276.5,96.0 276.5,97.0 276.5,98.0 276.6,99.0 276.6,100.0 276.6,101.0 276.6,102.0 276.6,103.0 276.6,104.0 276.6,105.0 276.6,106.0 276.6,107.0 276.6,108.0 276.6,109.0 276.6,110.0 276.6,111.0 276.6,112.0 276.6,113.0 276.6,114.0 276.6,115.0 276.6,116.0 276.6,117.0 276.6,118.0 276.6,119.0 276.6,120.0 276.6,121.0 276.6,122.0 276.6,123.0 276.6,124.0 276.6,125.0 276.6,126.0 276.6,127.0 276.6,128.0 276.6,129.0 276.6,130.0 276.6,131.0 276.6,132.0 276.6,133.0 276.6,134.0 276.6,135.0 276.6,136.0 276.6,137.0 276.6,138.0 276.6,139.0 276.6,140.0 276.6,141.0 276.6,142.0 276.6,143.0 276.6,144.0 276.6,145.0 276.6,146.0 276.5,147.0 276.5,148.0 276.5,149.0 276.4,150.0 276.4,151.0 276.4,152.0 276.3,153.0 276.3,154.0 276.3,155.0 276.2,156.0 276.2,157.0 276.2,158.0 276.2,159.0 276.1,160.0 276.1,161.0 276.1,162.0 276.0,163.0 276.0,164.0 276.0,165.0 275.9,166.0 275.9,167.0 275.9,168.0 275.8,169.0 275.8,170.0 275.8,171.0 275.7,172.0 275.7,173.0 275.7,174.0 275.7,175.0 275.6,176.0 275.6,177.0 275.6,178.0 275.6,179.0 275.5,180.0 275.5,181.0 275.5,182.0 275.5,183.0 275.4,184.0 275.4,185.0 275.4,186.0 275.3,187.0 275.3,188.0 275.3,189.0 275.3,190.0 275.2,191.0 275.2,192.0 275.2,193.0 275.2,194.0 275.1,195.0 275.1,196.0 275.1,197.0 275.1,198.0 275.0,199.0 275.0,200.0 275.0,201.0 275.0,202.0 275.0,203.0 275.0,204.0 274.9,205.0 274.9,206.0 274.9,207.0 274.9,208.0 274.9,209.0 274.9,210.0 274.9,211.0 274.9,212.0 274.8,213.0 274.8,214.0 274.8,215.0 274.8,216.0 274.8,217.0 274.8,218.0 274.8,219.0 274.8,220.0 274.7,221.0 274.7,222.0 274.7,223.0 274.7,224.0 274.7,225.0 274.7,226.0 274.7,227.0 274.7,228.0 274.6,229.0 274.6,230.0 274.6,231.0 274.6,232.0 274.6,233.0 264.5,233.0" fill="url(#egb)"/><polyline points="274.80,16.0 274.84,17.0 274.88,18.0 274.92,19.0 274.95,20.0 274.98,21.0 275.00,22.0 275.02,23.0 275.03,24.0 275.04,25.0 275.04,26.0 275.04,27.0 275.03,28.0 275.02,29.0 275.00,30.0 274.98,31.0 274.96,32.0 274.93,33.0 274.91,34.0 274.89,35.0 274.86,36.0 274.84,37.0 274.82,38.0 274.81,39.0 274.80,40.0 274.80,41.0 274.80,42.0 274.81,43.0 274.82,44.0 274.84,45.0 274.89,46.0 274.94,47.0 275.00,48.0 275.06,49.0 275.12,50.0 275.18,51.0 275.25,52.0 275.31,53.0 275.37,54.0 275.43,55.0 275.49,56.0 275.54,57.0 275.58,58.0 275.62,59.0 275.66,60.0 275.69,61.0 275.71,62.0 275.73,63.0 275.75,64.0 275.75,65.0 275.76,66.0 275.76,67.0 275.76,68.0 275.76,69.0 275.76,70.0 275.76,71.0 275.76,72.0 275.76,73.0 275.76,74.0 275.77,75.0 275.79,76.0 275.81,77.0 275.83,78.0 275.86,79.0 275.90,80.0 275.94,81.0 275.99,82.0 276.04,83.0 276.09,84.0 276.15,85.0 276.21,86.0 276.27,87.0 276.33,88.0 276.38,89.0 276.44,90.0 276.49,91.0 276.53,92.0 276.58,93.0 276.61,94.0 276.65,95.0 276.67,96.0 276.69,97.0 276.71,98.0 276.72,99.0 276.72,100.0 276.70,101.0 276.67,102.0 276.64,103.0 276.61,104.0 276.58,105.0 276.54,106.0 276.51,107.0 276.49,108.0 276.47,109.0 276.45,110.0 276.43,111.0 276.42,112.0 276.42,113.0 276.42,114.0 276.43,115.0 276.44,116.0 276.46,117.0 276.48,118.0 276.51,119.0 276.54,120.0 276.57,121.0 276.60,122.0 276.63,123.0 276.67,124.0 276.69,125.0 276.72,126.0 276.74,127.0 276.76,128.0 276.77,129.0 276.78,130.0 276.78,131.0 276.78,132.0 276.77,133.0 276.75,134.0 276.73,135.0 276.71,136.0 276.68,137.0 276.65,138.0 276.62,139.0 276.59,140.0 276.55,141.0 276.52,142.0 276.50,143.0 276.47,144.0 276.45,145.0 276.40,146.0 276.36,147.0 276.32,148.0 276.29,149.0 276.27,150.0 276.25,151.0 276.23,152.0 276.22,153.0 276.21,154.0 276.21,155.0 276.21,156.0 276.21,157.0 276.21,158.0 276.21,159.0 276.20,160.0 276.20,161.0 276.19,162.0 276.18,163.0 276.16,164.0 276.14,165.0 276.11,166.0 276.07,167.0 276.03,168.0 275.99,169.0 275.94,170.0 275.89,171.0 275.84,172.0 275.78,173.0 275.72,174.0 275.66,175.0 275.61,176.0 275.55,177.0 275.49,178.0 275.44,179.0 275.39,180.0 275.35,181.0 275.31,182.0 275.27,183.0 275.25,184.0 275.22,185.0 275.21,186.0 275.20,187.0 275.19,188.0 275.19,189.0 275.19,190.0 275.19,191.0 275.19,192.0 275.20,193.0 275.20,194.0 275.21,195.0 275.21,196.0 275.21,197.0 275.20,198.0 275.19,199.0 275.17,200.0 275.17,201.0 275.15,202.0 275.14,203.0 275.11,204.0 275.08,205.0 275.05,206.0 275.01,207.0 274.97,208.0 274.93,209.0 274.89,210.0 274.84,211.0 274.80,212.0 274.76,213.0 274.72,214.0 274.68,215.0 274.65,216.0 274.63,217.0 274.61,218.0 274.59,219.0 274.58,220.0 274.58,221.0 274.58,222.0 274.58,223.0 274.59,224.0 274.61,225.0 274.62,226.0 274.64,227.0 274.66,228.0 274.68,229.0 274.70,230.0 274.72,231.0 274.73,232.0 274.74,233.0" fill="none" stroke="#000" stroke-width="0.6"/><polyline points="273.11,16.0 273.14,17.0 273.18,18.0 273.23,19.0 273.29,20.0 273.36,21.0 273.42,22.0 273.49,23.0 273.56,24.0 273.63,25.0 273.68,26.0 273.73,27.0 273.77,28.0 273.80,29.0 273.82,30.0 273.82,31.0 273.81,32.0 273.79,33.0 273.76,34.0 273.72,35.0 273.67,36.0 273.62,37.0 273.56,38.0 273.50,39.0 273.44,40.0 273.39,41.0 273.35,42.0 273.31,43.0 273.29,44.0 273.27,45.0 273.29,46.0 273.32,47.0 273.36,48.0 273.42,49.0 273.49,50.0 273.56,51.0 273.64,52.0 273.73,53.0 273.82,54.0 273.91,55.0 274.00,56.0 274.08,57.0 274.16,58.0 274.22,59.0 274.28,60.0 274.32,61.0 274.36,62.0 274.38,63.0 274.38,64.0 274.38,65.0 274.37,66.0 274.34,67.0 274.31,68.0 274.28,69.0 274.24,70.0 274.20,71.0 274.16,72.0 274.13,73.0 274.10,74.0 274.09,75.0 274.08,76.0 274.09,77.0 274.11,78.0 274.14,79.0 274.18,80.0 274.24,81.0 274.30,82.0 274.38,83.0 274.46,84.0 274.54,85.0 274.63,86.0 274.71,87.0 274.79,88.0 274.87,89.0 274.94,90.0 275.00,91.0 275.04,92.0 275.08,93.0 275.10,94.0 275.11,95.0 275.11,96.0 275.10,97.0 275.08,98.0 275.05,99.0 275.01,100.0 274.95,101.0 274.88,102.0 274.82,103.0 274.76,104.0 274.71,105.0 274.67,106.0 274.63,107.0 274.61,108.0 274.60,109.0 274.60,110.0 274.61,111.0 274.64,112.0 274.68,113.0 274.72,114.0 274.78,115.0 274.84,116.0 274.90,117.0 274.96,118.0 275.02,119.0 275.08,120.0 275.13,121.0 275.17,122.0 275.21,123.0 275.23,124.0 275.24,125.0 275.23,126.0 275.22,127.0 275.19,128.0 275.15,129.0 275.10,130.0 275.05,131.0 274.99,132.0 274.92,133.0 274.86,134.0 274.80,135.0 274.74,136.0 274.69,137.0 274.65,138.0 274.62,139.0 274.60,140.0 274.60,141.0 274.60,142.0 274.62,143.0 274.65,144.0 274.69,145.0 274.72,146.0 274.74,147.0 274.78,148.0 274.82,149.0 274.85,150.0 274.89,151.0 274.91,152.0 274.94,153.0 274.95,154.0 274.95,155.0 274.94,156.0 274.92,157.0 274.88,158.0 274.83,159.0 274.77,160.0 274.71,161.0 274.63,162.0 274.54,163.0 274.46,164.0 274.37,165.0 274.28,166.0 274.19,167.0 274.11,168.0 274.04,169.0 273.97,170.0 273.92,171.0 273.89,172.0 273.86,173.0 273.85,174.0 273.85,175.0 273.87,176.0 273.89,177.0 273.92,178.0 273.95,179.0 273.99,180.0 274.04,181.0 274.08,182.0 274.11,183.0 274.14,184.0 274.17,185.0 274.18,186.0 274.18,187.0 274.17,188.0 274.15,189.0 274.11,190.0 274.06,191.0 274.00,192.0 273.94,193.0 273.86,194.0 273.78,195.0 273.69,196.0 273.61,197.0 273.52,198.0 273.44,199.0 273.37,200.0 273.32,201.0 273.27,202.0 273.24,203.0 273.22,204.0 273.22,205.0 273.22,206.0 273.24,207.0 273.27,208.0 273.31,209.0 273.35,210.0 273.40,211.0 273.45,212.0 273.51,213.0 273.56,214.0 273.60,215.0 273.64,216.0 273.67,217.0 273.70,218.0 273.70,219.0 273.70,220.0 273.69,221.0 273.66,222.0 273.62,223.0 273.57,224.0 273.51,225.0 273.44,226.0 273.37,227.0 273.30,228.0 273.22,229.0 273.15,230.0 273.09,231.0 273.03,232.0 272.98,233.0" fill="none" stroke="#000" stroke-width="0.6"/><polyline points="272.47,16.0 272.44,17.0 272.41,18.0 272.36,19.0 272.31,20.0 272.25,21.0 272.18,22.0 272.11,23.0 272.04,24.0 271.97,25.0 271.91,26.0 271.85,27.0 271.79,28.0 271.74,29.0 271.70,30.0 271.67,31.0 271.66,32.0 271.65,33.0 271.66,34.0 271.68,35.0 271.71,36.0 271.75,37.0 271.80,38.0 271.86,39.0 271.92,40.0 272.00,41.0 272.07,42.0 272.15,43.0 272.23,44.0 272.31,45.0 272.40,46.0 272.48,47.0 272.56,48.0 272.63,49.0 272.69,50.0 272.74,51.0 272.77,52.0 272.80,53.0 272.81,54.0 272.81,55.0 272.80,56.0 272.78,57.0 272.75,58.0 272.71,59.0 272.67,60.0 272.62,61.0 272.57,62.0 272.51,63.0 272.46,64.0 272.41,65.0 272.37,66.0 272.33,67.0 272.30,68.0 272.28,69.0 272.27,70.0 272.27,71.0 272.28,72.0 272.30,73.0 272.33,74.0 272.37,75.0 272.43,76.0 272.49,77.0 272.57,78.0 272.65,79.0 272.74,80.0 272.83,81.0 272.92,82.0 273.01,83.0 273.10,84.0 273.18,85.0 273.26,86.0 273.34,87.0 273.40,88.0 273.46,89.0 273.50,90.0 273.53,91.0 273.55,92.0 273.56,93.0 273.55,94.0 273.54,95.0 273.51,96.0 273.48,97.0 273.44,98.0 273.39,99.0 273.34,100.0 273.26,101.0 273.19,102.0 273.12,103.0 273.05,104.0 272.98,105.0 272.92,106.0 272.87,107.0 272.83,108.0 272.80,109.0 272.78,110.0 272.77,111.0 272.78,112.0 272.79,113.0 272.82,114.0 272.86,115.0 272.91,116.0 272.97,117.0 273.03,118.0 273.10,119.0 273.17,120.0 273.25,121.0 273.32,122.0 273.39,123.0 273.46,124.0 273.52,125.0 273.57,126.0 273.62,127.0 273.65,128.0 273.68,129.0 273.69,130.0 273.69,131.0 273.68,132.0 273.66,133.0 273.62,134.0 273.58,135.0 273.53,136.0 273.47,137.0 273.40,138.0 273.33,139.0 273.25,140.0 273.18,141.0 273.11,142.0 273.04,143.0 272.97,144.0 272.92,145.0 272.84,146.0 272.78,147.0 272.73,148.0 272.69,149.0 272.67,150.0 272.65,151.0 272.65,152.0 272.66,153.0 272.67,154.0 272.70,155.0 272.74,156.0 272.78,157.0 272.83,158.0 272.88,159.0 272.93,160.0 272.99,161.0 273.04,162.0 273.08,163.0 273.12,164.0 273.15,165.0 273.18,166.0 273.19,167.0 273.19,168.0 273.18,169.0 273.16,170.0 273.13,171.0 273.09,172.0 273.03,173.0 272.97,174.0 272.90,175.0 272.82,176.0 272.73,177.0 272.64,178.0 272.55,179.0 272.46,180.0 272.37,181.0 272.28,182.0 272.20,183.0 272.13,184.0 272.06,185.0 272.00,186.0 271.96,187.0 271.92,188.0 271.90,189.0 271.89,190.0 271.89,191.0 271.91,192.0 271.93,193.0 271.96,194.0 272.00,195.0 272.05,196.0 272.10,197.0 272.16,198.0 272.21,199.0 272.27,200.0 272.33,201.0 272.39,202.0 272.44,203.0 272.49,204.0 272.52,205.0 272.55,206.0 272.56,207.0 272.56,208.0 272.55,209.0 272.53,210.0 272.50,211.0 272.45,212.0 272.40,213.0 272.33,214.0 272.26,215.0 272.19,216.0 272.11,217.0 272.03,218.0 271.94,219.0 271.86,220.0 271.79,221.0 271.71,222.0 271.65,223.0 271.60,224.0 271.55,225.0 271.52,226.0 271.49,227.0 271.48,228.0 271.48,229.0 271.49,230.0 271.52,231.0 271.55,232.0 271.59,233.0" fill="none" stroke="#000" stroke-width="0.6"/><polyline points="270.05,16.0 270.07,17.0 270.11,18.0 270.20,19.0 270.30,20.0 270.43,21.0 270.58,22.0 270.73,23.0 270.87,24.0 271.01,25.0 271.12,26.0 271.21,27.0 271.27,28.0 271.29,29.0 271.28,30.0 271.24,31.0 271.16,32.0 271.06,33.0 270.94,34.0 270.80,35.0 270.66,36.0 270.52,37.0 270.40,38.0 270.29,39.0 270.21,40.0 270.16,41.0 270.14,42.0 270.16,43.0 270.21,44.0 270.30,45.0 270.42,46.0 270.56,47.0 270.72,48.0 270.88,49.0 271.04,50.0 271.18,51.0 271.31,52.0 271.41,53.0 271.48,54.0 271.51,55.0 271.51,56.0 271.47,57.0 271.41,58.0 271.32,59.0 271.20,60.0 271.08,61.0 270.95,62.0 270.82,63.0 270.71,64.0 270.62,65.0 270.55,66.0 270.52,67.0 270.52,68.0 270.55,69.0 270.62,70.0 270.72,71.0 270.84,72.0 270.98,73.0 271.14,74.0 271.30,75.0 271.45,76.0 271.59,77.0 271.71,78.0 271.81,79.0 271.87,80.0 271.90,81.0 271.89,82.0 271.85,83.0 271.78,84.0 271.68,85.0 271.56,86.0 271.43,87.0 271.30,88.0 271.17,89.0 271.06,90.0 270.97,91.0 270.90,92.0 270.87,93.0 270.87,94.0 270.91,95.0 270.98,96.0 271.08,97.0 271.20,98.0 271.35,99.0 271.50,100.0 271.65,101.0 271.79,102.0 271.91,103.0 272.02,104.0 272.09,105.0 272.14,106.0 272.15,107.0 272.13,108.0 272.07,109.0 271.98,110.0 271.87,111.0 271.73,112.0 271.59,113.0 271.45,114.0 271.31,115.0 271.18,116.0 271.08,117.0 271.00,118.0 270.96,119.0 270.95,120.0 270.98,121.0 271.04,122.0 271.13,123.0 271.24,124.0 271.37,125.0 271.52,126.0 271.66,127.0 271.80,128.0 271.92,129.0 272.02,130.0 272.10,131.0 272.14,132.0 272.15,133.0 272.12,134.0 272.06,135.0 271.97,136.0 271.85,137.0 271.72,138.0 271.58,139.0 271.43,140.0 271.29,141.0 271.17,142.0 271.07,143.0 271.00,144.0 270.96,145.0 270.94,146.0 270.95,147.0 271.00,148.0 271.07,149.0 271.17,150.0 271.29,151.0 271.42,152.0 271.55,153.0 271.67,154.0 271.77,155.0 271.86,156.0 271.91,157.0 271.94,158.0 271.92,159.0 271.88,160.0 271.80,161.0 271.69,162.0 271.55,163.0 271.40,164.0 271.24,165.0 271.08,166.0 270.93,167.0 270.79,168.0 270.68,169.0 270.59,170.0 270.54,171.0 270.53,172.0 270.55,173.0 270.60,174.0 270.68,175.0 270.79,176.0 270.91,177.0 271.04,178.0 271.17,179.0 271.29,180.0 271.40,181.0 271.48,182.0 271.54,183.0 271.56,184.0 271.55,185.0 271.50,186.0 271.42,187.0 271.31,188.0 271.17,189.0 271.02,190.0 270.87,191.0 270.71,192.0 270.56,193.0 270.43,194.0 270.32,195.0 270.24,196.0 270.19,197.0 270.18,198.0 270.20,199.0 270.26,200.0 270.35,201.0 270.47,202.0 270.60,203.0 270.74,204.0 270.87,205.0 271.00,206.0 271.11,207.0 271.20,208.0 271.26,209.0 271.29,210.0 271.28,211.0 271.23,212.0 271.16,213.0 271.05,214.0 270.92,215.0 270.78,216.0 270.63,217.0 270.48,218.0 270.34,219.0 270.22,220.0 270.12,221.0 270.05,222.0 270.01,223.0 270.01,224.0 270.05,225.0 270.11,226.0 270.21,227.0 270.32,228.0 270.45,229.0 270.59,230.0 270.73,231.0 270.86,232.0 270.97,233.0" fill="none" stroke="#000" stroke-width="0.6"/><polyline points="269.05,16.0 268.97,17.0 268.91,18.0 268.86,19.0 268.83,20.0 268.82,21.0 268.83,22.0 268.86,23.0 268.90,24.0 268.97,25.0 269.04,26.0 269.13,27.0 269.22,28.0 269.32,29.0 269.42,30.0 269.51,31.0 269.59,32.0 269.66,33.0 269.72,34.0 269.75,35.0 269.77,36.0 269.77,37.0 269.75,38.0 269.71,39.0 269.65,40.0 269.58,41.0 269.50,42.0 269.41,43.0 269.32,44.0 269.23,45.0 269.15,46.0 269.08,47.0 269.02,48.0 268.97,49.0 268.95,50.0 268.94,51.0 268.95,52.0 268.98,53.0 269.03,54.0 269.10,55.0 269.18,56.0 269.27,57.0 269.37,58.0 269.48,59.0 269.58,60.0 269.69,61.0 269.78,62.0 269.86,63.0 269.93,64.0 269.98,65.0 270.01,66.0 270.03,67.0 270.02,68.0 269.99,69.0 269.95,70.0 269.89,71.0 269.82,72.0 269.74,73.0 269.65,74.0 269.57,75.0 269.48,76.0 269.41,77.0 269.34,78.0 269.29,79.0 269.26,80.0 269.24,81.0 269.25,82.0 269.27,83.0 269.31,84.0 269.37,85.0 269.45,86.0 269.54,87.0 269.63,88.0 269.74,89.0 269.84,90.0 269.94,91.0 270.04,92.0 270.12,93.0 270.19,94.0 270.25,95.0 270.28,96.0 270.30,97.0 270.30,98.0 270.28,99.0 270.24,100.0 270.17,101.0 270.09,102.0 270.01,103.0 269.91,104.0 269.82,105.0 269.73,106.0 269.64,107.0 269.56,108.0 269.50,109.0 269.45,110.0 269.42,111.0 269.41,112.0 269.42,113.0 269.44,114.0 269.49,115.0 269.55,116.0 269.63,117.0 269.71,118.0 269.81,119.0 269.90,120.0 269.99,121.0 270.08,122.0 270.16,123.0 270.23,124.0 270.28,125.0 270.31,126.0 270.33,127.0 270.32,128.0 270.30,129.0 270.25,130.0 270.19,131.0 270.12,132.0 270.03,133.0 269.94,134.0 269.85,135.0 269.75,136.0 269.66,137.0 269.58,138.0 269.51,139.0 269.46,140.0 269.43,141.0 269.41,142.0 269.41,143.0 269.43,144.0 269.47,145.0 269.52,146.0 269.58,147.0 269.65,148.0 269.73,149.0 269.82,150.0 269.90,151.0 269.98,152.0 270.05,153.0 270.11,154.0 270.16,155.0 270.19,156.0 270.20,157.0 270.19,158.0 270.16,159.0 270.11,160.0 270.04,161.0 269.96,162.0 269.87,163.0 269.77,164.0 269.66,165.0 269.56,166.0 269.45,167.0 269.36,168.0 269.28,169.0 269.21,170.0 269.16,171.0 269.13,172.0 269.11,173.0 269.12,174.0 269.15,175.0 269.19,176.0 269.25,177.0 269.32,178.0 269.40,179.0 269.49,180.0 269.57,181.0 269.66,182.0 269.73,183.0 269.80,184.0 269.85,185.0 269.89,186.0 269.90,187.0 269.90,188.0 269.88,189.0 269.84,190.0 269.78,191.0 269.70,192.0 269.61,193.0 269.52,194.0 269.42,195.0 269.31,196.0 269.21,197.0 269.11,198.0 269.03,199.0 268.96,200.0 268.91,201.0 268.87,202.0 268.86,203.0 268.87,204.0 268.89,205.0 268.94,206.0 269.00,207.0 269.07,208.0 269.15,209.0 269.24,210.0 269.33,211.0 269.42,212.0 269.51,213.0 269.58,214.0 269.64,215.0 269.69,216.0 269.71,217.0 269.72,218.0 269.71,219.0 269.68,220.0 269.63,221.0 269.56,222.0 269.48,223.0 269.39,224.0 269.30,225.0 269.20,226.0 269.10,227.0 269.01,228.0 268.92,229.0 268.85,230.0 268.80,231.0 268.76,232.0 268.74,233.0" fill="none" stroke="#000" stroke-width="0.6"/><polyline points="267.78,16.0 267.72,17.0 267.67,18.0 267.63,19.0 267.60,20.0 267.58,21.0 267.57,22.0 267.58,23.0 267.60,24.0 267.63,25.0 267.67,26.0 267.73,27.0 267.79,28.0 267.85,29.0 267.92,30.0 267.99,31.0 268.05,32.0 268.10,33.0 268.15,34.0 268.19,35.0 268.21,36.0 268.23,37.0 268.23,38.0 268.21,39.0 268.18,40.0 268.15,41.0 268.10,42.0 268.04,43.0 267.98,44.0 267.92,45.0 267.86,46.0 267.80,47.0 267.75,48.0 267.70,49.0 267.67,50.0 267.65,51.0 267.64,52.0 267.64,53.0 267.66,54.0 267.69,55.0 267.73,56.0 267.78,57.0 267.84,58.0 267.91,59.0 267.98,60.0 268.05,61.0 268.12,62.0 268.18,63.0 268.24,64.0 268.29,65.0 268.32,66.0 268.35,67.0 268.36,68.0 268.36,69.0 268.34,70.0 268.31,71.0 268.27,72.0 268.23,73.0 268.17,74.0 268.11,75.0 268.05,76.0 267.99,77.0 267.93,78.0 267.88,79.0 267.84,80.0 267.81,81.0 267.79,82.0 267.79,83.0 267.80,84.0 267.82,85.0 267.85,86.0 267.90,87.0 267.95,88.0 268.01,89.0 268.08,90.0 268.15,91.0 268.22,92.0 268.29,93.0 268.35,94.0 268.40,95.0 268.44,96.0 268.47,97.0 268.49,98.0 268.50,99.0 268.49,100.0 268.46,101.0 268.43,102.0 268.38,103.0 268.32,104.0 268.26,105.0 268.20,106.0 268.13,107.0 268.07,108.0 268.01,109.0 267.96,110.0 267.92,111.0 267.89,112.0 267.87,113.0 267.86,114.0 267.87,115.0 267.89,116.0 267.93,117.0 267.97,118.0 268.03,119.0 268.09,120.0 268.15,121.0 268.22,122.0 268.28,123.0 268.34,124.0 268.39,125.0 268.44,126.0 268.47,127.0 268.49,128.0 268.50,129.0 268.50,130.0 268.48,131.0 268.45,132.0 268.41,133.0 268.36,134.0 268.30,135.0 268.24,136.0 268.17,137.0 268.11,138.0 268.04,139.0 267.99,140.0 267.94,141.0 267.90,142.0 267.88,143.0 267.86,144.0 267.87,145.0 267.87,146.0 267.90,147.0 267.93,148.0 267.97,149.0 268.02,150.0 268.08,151.0 268.14,152.0 268.20,153.0 268.26,154.0 268.31,155.0 268.35,156.0 268.39,157.0 268.41,158.0 268.42,159.0 268.42,160.0 268.41,161.0 268.38,162.0 268.34,163.0 268.29,164.0 268.23,165.0 268.16,166.0 268.09,167.0 268.02,168.0 267.95,169.0 267.89,170.0 267.83,171.0 267.78,172.0 267.74,173.0 267.72,174.0 267.71,175.0 267.71,176.0 267.72,177.0 267.75,178.0 267.79,179.0 267.84,180.0 267.89,181.0 267.95,182.0 268.01,183.0 268.07,184.0 268.13,185.0 268.18,186.0 268.22,187.0 268.25,188.0 268.27,189.0 268.28,190.0 268.27,191.0 268.25,192.0 268.22,193.0 268.18,194.0 268.12,195.0 268.06,196.0 268.00,197.0 267.93,198.0 267.86,199.0 267.79,200.0 267.73,201.0 267.68,202.0 267.64,203.0 267.61,204.0 267.59,205.0 267.59,206.0 267.59,207.0 267.62,208.0 267.65,209.0 267.70,210.0 267.75,211.0 267.81,212.0 267.87,213.0 267.93,214.0 268.00,215.0 268.05,216.0 268.10,217.0 268.14,218.0 268.17,219.0 268.19,220.0 268.19,221.0 268.18,222.0 268.16,223.0 268.13,224.0 268.08,225.0 268.03,226.0 267.97,227.0 267.90,228.0 267.83,229.0 267.77,230.0 267.70,231.0 267.65,232.0 267.60,233.0" fill="none" stroke="#000" stroke-width="0.6"/><polyline points="266.68,16.0 266.68,17.0 266.67,18.0 266.65,19.0 266.62,20.0 266.59,21.0 266.55,22.0 266.51,23.0 266.47,24.0 266.43,25.0 266.39,26.0 266.36,27.0 266.34,28.0 266.32,29.0 266.32,30.0 266.32,31.0 266.34,32.0 266.36,33.0 266.39,34.0 266.43,35.0 266.47,36.0 266.51,37.0 266.55,38.0 266.59,39.0 266.62,40.0 266.65,41.0 266.67,42.0 266.68,43.0 266.68,44.0 266.67,45.0 266.65,46.0 266.63,47.0 266.60,48.0 266.56,49.0 266.52,50.0 266.48,51.0 266.44,52.0 266.40,53.0 266.37,54.0 266.34,55.0 266.33,56.0 266.32,57.0 266.32,58.0 266.33,59.0 266.36,60.0 266.38,61.0 266.42,62.0 266.46,63.0 266.50,64.0 266.54,65.0 266.58,66.0 266.61,67.0 266.64,68.0 266.66,69.0 266.68,70.0 266.68,71.0 266.67,72.0 266.66,73.0 266.63,74.0 266.60,75.0 266.57,76.0 266.53,77.0 266.49,78.0 266.45,79.0 266.41,80.0 266.37,81.0 266.35,82.0 266.33,83.0 266.32,84.0 266.32,85.0 266.33,86.0 266.35,87.0 266.38,88.0 266.41,89.0 266.45,90.0 266.49,91.0 266.53,92.0 266.57,93.0 266.61,94.0 266.64,95.0 266.66,96.0 266.67,97.0 266.68,98.0 266.68,99.0 266.66,100.0 266.64,101.0 266.61,102.0 266.58,103.0 266.54,104.0 266.50,105.0 266.46,106.0 266.42,107.0 266.38,108.0 266.35,109.0 266.33,110.0 266.32,111.0 266.32,112.0 266.33,113.0 266.34,114.0 266.37,115.0 266.40,116.0 266.44,117.0 266.48,118.0 266.52,119.0 266.56,120.0 266.60,121.0 266.63,122.0 266.65,123.0 266.67,124.0 266.68,125.0 266.68,126.0 266.67,127.0 266.65,128.0 266.62,129.0 266.59,130.0 266.55,131.0 266.51,132.0 266.46,133.0 266.43,134.0 266.39,135.0 266.36,136.0 266.34,137.0 266.32,138.0 266.32,139.0 266.33,140.0 266.34,141.0 266.36,142.0 266.39,143.0 266.43,144.0 266.47,145.0 266.51,146.0 266.55,147.0 266.59,148.0 266.62,149.0 266.65,150.0 266.67,151.0 266.68,152.0 266.68,153.0 266.67,154.0 266.65,155.0 266.63,156.0 266.59,157.0 266.56,158.0 266.52,159.0 266.47,160.0 266.43,161.0 266.40,162.0 266.37,163.0 266.34,164.0 266.33,165.0 266.32,166.0 266.32,167.0 266.34,168.0 266.36,169.0 266.38,170.0 266.42,171.0 266.46,172.0 266.50,173.0 266.54,174.0 266.58,175.0 266.61,176.0 266.64,177.0 266.66,178.0 266.68,179.0 266.68,180.0 266.67,181.0 266.66,182.0 266.63,183.0 266.60,184.0 266.57,185.0 266.53,186.0 266.48,187.0 266.44,188.0 266.41,189.0 266.37,190.0 266.35,191.0 266.33,192.0 266.32,193.0 266.32,194.0 266.33,195.0 266.35,196.0 266.38,197.0 266.41,198.0 266.45,199.0 266.49,200.0 266.53,201.0 266.57,202.0 266.61,203.0 266.64,204.0 266.66,205.0 266.67,206.0 266.68,207.0 266.68,208.0 266.66,209.0 266.64,210.0 266.61,211.0 266.58,212.0 266.54,213.0 266.49,214.0 266.45,215.0 266.42,216.0 266.38,217.0 266.35,218.0 266.33,219.0 266.32,220.0 266.32,221.0 266.33,222.0 266.35,223.0 266.37,224.0 266.40,225.0 266.44,226.0 266.48,227.0 266.52,228.0 266.56,229.0 266.60,230.0 266.63,231.0 266.66,232.0 266.67,233.0" fill="none" stroke="#000" stroke-width="0.6"/>
</g>
<g stroke="#555" stroke-width="0.9" fill="none">
<rect x="267.1" y="18.6" width="127.10" height="211.30"/>
<line x1="284.90" y1="229.9" x2="284.90" y2="231.9"/>
<line x1="284.90" y1="18.6" x2="284.90" y2="16.6"/>
<line x1="306.90" y1="229.9" x2="306.90" y2="231.9"/>
<line x1="306.90" y1="18.6" x2="306.90" y2="16.6"/>
<line x1="328.90" y1="229.9" x2="328.90" y2="231.9"/>
<line x1="328.90" y1="18.6" x2="328.90" y2="16.6"/>
<line x1="350.90" y1="229.9" x2="350.90" y2="231.9"/>
<line x1="350.90" y1="18.6" x2="350.90" y2="16.6"/>
<line x1="372.90" y1="229.9" x2="372.90" y2="231.9"/>
<line x1="372.90" y1="18.6" x2="372.90" y2="16.6"/>
<line x1="267.1" y1="210.96" x2="265.1" y2="210.96"/>
<line x1="394.2" y1="210.96" x2="396.2" y2="210.96"/>
<line x1="267.1" y1="189.12" x2="265.1" y2="189.12"/>
<line x1="394.2" y1="189.12" x2="396.2" y2="189.12"/>
<line x1="267.1" y1="167.28" x2="265.1" y2="167.28"/>
<line x1="394.2" y1="167.28" x2="396.2" y2="167.28"/>
<line x1="267.1" y1="145.44" x2="265.1" y2="145.44"/>
<line x1="394.2" y1="145.44" x2="396.2" y2="145.44"/>
<line x1="267.1" y1="123.60" x2="265.1" y2="123.60"/>
<line x1="394.2" y1="123.60" x2="396.2" y2="123.60"/>
<line x1="267.1" y1="101.76" x2="265.1" y2="101.76"/>
<line x1="394.2" y1="101.76" x2="396.2" y2="101.76"/>
<line x1="267.1" y1="79.92" x2="265.1" y2="79.92"/>
<line x1="394.2" y1="79.92" x2="396.2" y2="79.92"/>
<line x1="267.1" y1="58.08" x2="265.1" y2="58.08"/>
<line x1="394.2" y1="58.08" x2="396.2" y2="58.08"/>
<line x1="267.1" y1="36.24" x2="265.1" y2="36.24"/>
<line x1="394.2" y1="36.24" x2="396.2" y2="36.24"/>
</g>
<g fill="#000">
<text x="284.9" y="242.2" font-size="9" text-anchor="middle" >10</text>
<text x="306.9" y="242.2" font-size="9" text-anchor="middle" >20</text>
<text x="328.9" y="242.2" font-size="9" text-anchor="middle" >30</text>
<text x="350.9" y="242.2" font-size="9" text-anchor="middle" >40</text>
<text x="372.9" y="242.2" font-size="9" text-anchor="middle" >50</text>
<text x="261.8" y="214.2" font-size="9" text-anchor="end" >−40</text>
<text x="261.8" y="192.3" font-size="9" text-anchor="end" >−30</text>
<text x="261.8" y="170.5" font-size="9" text-anchor="end" >−20</text>
<text x="261.8" y="148.6" font-size="9" text-anchor="end" >−10</text>
<text x="261.8" y="126.8" font-size="9" text-anchor="end" >0</text>
<text x="261.8" y="105.0" font-size="9" text-anchor="end" >10</text>
<text x="261.8" y="83.1" font-size="9" text-anchor="end" >20</text>
<text x="261.8" y="61.3" font-size="9" text-anchor="end" >30</text>
<text x="261.8" y="39.4" font-size="9" text-anchor="end" >40</text>
<text x="329.6" y="254.9" font-size="9" text-anchor="middle"><tspan font-style="italic">B</tspan><tspan font-size="6.5" dy="2">c</tspan><tspan dy="-2"> (mT)</tspan></text>
<text transform="translate(239.3,121.5) rotate(-90)" font-size="9" text-anchor="middle"><tspan font-style="italic">B</tspan><tspan font-size="7.5" dy="2">b</tspan><tspan dy="-2"> (mT)</tspan></text>
<text x="234.9" y="11.2" font-size="9" text-anchor="start" >(<tspan font-style="italic">b</tspan>)</text>
<text x="266.5" y="11.5" font-size="9" text-anchor="start" >HA1b (SF=3)</text>
<rect x="405.0" y="18.5" width="18.30" height="212.00" fill="url(#gradb)" stroke="#555" stroke-width="0.9"/>
<g stroke="#222" stroke-width="0.9">
<line x1="405.0" y1="230.80" x2="406.8" y2="230.80"/><line x1="423.3" y1="230.80" x2="421.5" y2="230.80"/>
<line x1="405.0" y1="198.30" x2="406.8" y2="198.30"/><line x1="423.3" y1="198.30" x2="421.5" y2="198.30"/>
<line x1="405.0" y1="165.80" x2="406.8" y2="165.80"/><line x1="423.3" y1="165.80" x2="421.5" y2="165.80"/>
<line x1="405.0" y1="133.30" x2="406.8" y2="133.30"/><line x1="423.3" y1="133.30" x2="421.5" y2="133.30"/>
<line x1="405.0" y1="100.80" x2="406.8" y2="100.80"/><line x1="423.3" y1="100.80" x2="421.5" y2="100.80"/>
<line x1="405.0" y1="68.30" x2="406.8" y2="68.30"/><line x1="423.3" y1="68.30" x2="421.5" y2="68.30"/>
<line x1="405.0" y1="35.80" x2="406.8" y2="35.80"/><line x1="423.3" y1="35.80" x2="421.5" y2="35.80"/>
</g>
<text x="426.1" y="233.7" font-size="9" text-anchor="start" >0</text>
<text x="426.1" y="201.2" font-size="9" text-anchor="start" >2</text>
<text x="426.1" y="168.7" font-size="9" text-anchor="start" >4</text>
<text x="426.1" y="136.2" font-size="9" text-anchor="start" >6</text>
<text x="426.1" y="103.7" font-size="9" text-anchor="start" >8</text>
<text x="426.1" y="71.2" font-size="9" text-anchor="start" >10</text>
<text x="426.1" y="38.7" font-size="9" text-anchor="start" >12</text>
<text x="423.1" y="12.0" font-size="9"><tspan font-size="10.5">×</tspan> 10<tspan font-size="7.6" dy="-3.6">−11</tspan></text>
<g stroke="#555" stroke-width="0.9" fill="none">
<rect x="266.1" y="272.1" width="126.00" height="42.80"/>
<line x1="308.10" y1="314.9" x2="308.10" y2="313.4"/><line x1="308.10" y1="272.1" x2="308.10" y2="273.6"/>
<line x1="350.10" y1="314.9" x2="350.10" y2="313.4"/><line x1="350.10" y1="272.1" x2="350.10" y2="273.6"/>
<line x1="266.1" y1="286.2" x2="267.6" y2="286.2"/><line x1="392.1" y1="286.2" x2="390.6" y2="286.2"/>
<line x1="266.1" y1="300.5" x2="267.6" y2="300.5"/><line x1="392.1" y1="300.5" x2="390.6" y2="300.5"/>
</g>
<text x="263.6" y="274.7" font-size="9" text-anchor="end" >1.5</text>
<text x="263.6" y="289.4" font-size="9" text-anchor="end" >1.0</text>
<text x="263.6" y="303.7" font-size="9" text-anchor="end" >0.5</text>
<text x="261.0" y="323.5" font-size="9" text-anchor="middle" >0</text>
<text x="308.1" y="322.9" font-size="9" text-anchor="middle" >20</text>
<text x="350.1" y="322.9" font-size="9" text-anchor="middle" >40</text>
<text x="392.1" y="322.9" font-size="9" text-anchor="middle" >60</text>
<text x="329.1" y="334.9" font-size="9" text-anchor="middle"><tspan font-style="italic">B</tspan><tspan font-size="6.5" dy="2">c</tspan><tspan dy="-2"> (mT)</tspan></text>
<text x="266.3" y="269.5" font-size="9"><tspan font-size="10.5">×</tspan> 10<tspan font-size="7.6" dy="-3.6">−10</tspan></text>
<polyline fill="none" stroke="#000" stroke-width="1.3" stroke-linejoin="round" points="270.0,274.3 274.5,287.3 278.4,292.6 281.9,290.5 288.1,288.7 292.6,289.6 297.9,292.6 305.0,297.4 312.1,301.5 321.0,305.0 330.0,307.7 343.0,309.9 361.9,311.7 380.8,313.1 391.3,313.8"/>
</g>
<g clip-path="url(#clipc)">
<path d="M41.2 577.8 21.9 577.8 21.8 402.6 21.9 361.0 22.0 360.9 32.0 361.0 32.0 361.8 38.8 362.0 39.2 362.2 41.7 365.0 41.2 369.8 38.8 374.0 37.1 378.2 36.8 382.2 36.8 389.0 37.1 389.4 37.2 390.4 37.9 392.6 38.0 393.4 38.3 393.8 38.8 396.2 39.2 397.2 41.6 401.4 44.0 402.2 44.4 401.8 45.2 397.8 45.6 396.5 48.4 397.7 52.8 401.0 53.6 401.8 54.2 406.2 56.0 408.1 56.4 408.2 59.6 405.0 60.0 404.9 62.0 403.8 62.4 404.2 62.8 406.2 60.8 409.0 58.2 411.0 59.5 414.2 58.4 415.8 55.8 418.6 55.7 419.4 56.9 422.2 58.1 423.8 59.6 425.7 61.6 427.2 62.4 427.7 63.6 428.1 70.4 429.8 73.6 431.8 74.8 435.0 73.6 437.4 73.7 439.0 74.2 441.0 77.6 443.6 79.4 444.6 80.8 448.2 81.2 448.5 84.8 450.4 87.7 453.8 91.2 457.6 91.6 457.8 98.8 458.2 102.4 462.3 107.2 462.4 113.2 463.8 118.8 462.5 123.2 462.5 125.3 468.2 127.7 473.0 128.4 474.0 130.4 473.0 132.8 472.1 133.2 471.8 135.2 471.3 135.6 471.0 136.4 470.9 136.8 470.6 137.7 470.6 138.8 472.2 138.8 472.6 136.2 475.8 132.2 478.6 130.2 478.6 129.2 478.3 127.6 478.2 124.8 480.3 123.2 481.8 122.4 481.5 117.6 481.0 111.6 481.0 108.0 481.6 106.8 482.0 99.3 485.8 98.0 486.2 94.4 486.7 90.4 486.1 90.0 486.2 88.8 487.4 88.7 487.8 90.5 490.2 90.0 490.6 88.4 491.0 87.6 491.0 84.4 489.7 84.0 489.7 81.2 490.0 78.4 491.4 77.8 492.2 76.9 494.2 77.4 498.6 77.2 499.0 75.2 500.9 71.6 502.4 69.8 504.2 69.6 504.6 70.1 506.6 74.0 510.5 74.6 510.2 78.0 509.7 78.3 509.4 78.6 508.6 78.8 507.4 79.1 507.0 79.6 504.9 80.0 505.0 80.4 505.4 80.7 506.2 80.4 510.2 78.4 513.8 78.4 514.2 75.6 517.1 75.2 517.1 73.2 514.6 70.4 512.3 69.7 513.4 69.6 514.2 69.3 514.6 68.8 515.8 68.8 518.6 66.4 518.6 64.4 516.7 62.3 519.0 61.6 523.1 60.4 524.3 60.0 524.4 59.6 524.2 58.0 523.0 53.6 518.6 51.6 514.6 51.1 510.6 48.8 508.2 48.4 508.1 46.0 508.7 43.6 511.0 42.0 513.7 41.9 514.2 42.3 545.0 41.6 560.2 41.6 577.4 41.5 577.8 41.2 577.8Z" fill="#f5f5f5" fill-rule="evenodd" stroke="#000" stroke-width="0.62" stroke-linejoin="round"/>
<path d="M40.0 577.8 21.9 577.8 21.8 402.6 21.9 361.0 22.0 360.9 31.9 361.0 32.0 361.9 35.6 362.2 35.5 379.8 36.2 388.2 36.6 390.6 37.7 394.6 38.0 395.0 38.6 397.4 39.2 399.0 40.8 405.8 41.2 417.8 41.6 419.4 43.2 424.6 45.5 427.0 47.2 429.2 51.2 433.3 53.6 437.0 56.3 442.2 58.0 446.7 58.8 448.2 61.6 451.5 65.6 455.4 69.6 456.8 77.6 462.2 80.0 461.9 87.2 465.8 94.4 466.7 98.2 465.4 98.8 465.3 101.6 468.1 105.5 471.4 105.8 471.8 101.8 475.8 101.2 476.1 90.4 480.3 86.0 481.1 80.4 483.1 76.0 485.5 74.0 487.8 68.2 489.4 63.6 491.6 56.4 493.7 49.2 494.4 41.6 494.2 41.5 498.6 41.2 501.0 40.8 510.2 40.9 530.2 40.2 576.6 40.0 577.8Z" fill="#e4e4e4" fill-rule="evenodd" stroke="#000" stroke-width="0.62" stroke-linejoin="round"/>
<path d="M38.0 577.8 21.9 577.8 21.8 402.6 21.9 361.0 22.0 360.9 31.9 361.0 32.0 362.0 34.4 362.2 34.3 380.2 36.0 399.9 39.9 431.4 40.4 437.0 41.7 444.6 42.0 445.0 47.2 445.7 52.4 447.7 60.4 455.7 70.8 463.5 80.4 466.2 85.9 468.2 90.4 471.0 91.3 471.8 86.4 475.3 80.0 478.2 74.8 477.6 68.0 478.6 67.6 478.9 64.0 479.8 63.6 480.1 61.5 480.6 54.8 482.9 48.4 484.1 42.0 484.6 41.6 485.6 41.5 487.8 40.6 494.2 39.5 505.0 38.8 530.2 38.3 576.2 38.2 577.4 38.0 577.8Z" fill="#d3d3d3" fill-rule="evenodd" stroke="#000" stroke-width="0.62" stroke-linejoin="round"/>
<path d="M36.4 577.8 21.9 577.8 21.8 402.6 21.9 361.0 22.0 360.9 31.8 361.0 31.8 361.8 32.0 362.2 33.2 362.2 33.2 380.2 35.5 420.2 39.1 445.0 41.6 453.1 41.8 453.4 42.8 453.8 48.0 454.8 48.8 455.1 55.2 458.4 60.7 461.8 66.3 464.6 72.0 467.0 78.0 471.0 78.5 471.4 78.6 471.8 75.2 474.6 74.5 475.0 67.8 477.0 62.8 478.2 54.8 479.5 48.4 480.1 42.0 480.1 41.6 480.6 41.5 481.8 40.9 484.2 38.0 500.2 37.0 529.8 36.6 576.2 36.4 577.8Z" fill="#c2c2c2" fill-rule="evenodd" stroke="#000" stroke-width="0.62" stroke-linejoin="round"/>
<path d="M34.8 577.8 21.9 577.8 21.8 402.6 21.9 361.0 22.0 360.9 31.8 361.0 32.0 363.4 31.9 363.8 31.6 364.2 31.6 376.6 32.0 377.0 32.0 379.8 32.3 380.2 32.3 384.6 32.3 387.0 32.0 387.4 32.0 390.6 31.7 391.0 31.7 395.0 32.0 398.6 32.4 400.2 32.4 401.8 32.7 402.2 32.8 403.8 33.1 404.2 33.2 406.2 33.5 406.6 33.6 420.6 33.9 421.0 34.0 423.8 34.4 424.2 34.4 425.4 34.7 425.8 34.8 427.4 35.1 427.8 35.2 429.4 35.5 429.8 35.5 431.4 35.9 431.8 36.0 439.9 39.7 452.6 41.6 456.6 42.0 457.0 48.0 458.8 53.6 460.9 64.8 466.5 68.1 470.6 68.2 471.0 64.4 474.1 58.8 476.5 52.0 477.8 45.6 478.4 42.0 478.2 41.6 478.6 37.2 494.3 36.9 497.0 36.4 505.0 36.3 512.6 36.0 513.0 36.0 515.4 35.8 515.8 35.5 520.2 35.4 529.0 35.6 529.4 35.6 535.4 35.3 535.8 34.8 577.8Z" fill="#b1b1b1" fill-rule="evenodd" stroke="#000" stroke-width="0.62" stroke-linejoin="round"/>
<path d="M32.8 577.8 21.9 577.8 21.8 402.6 21.9 361.0 22.0 360.9 31.7 361.0 31.7 363.8 31.5 364.2 31.4 367.4 31.1 367.8 31.1 373.0 31.4 373.4 31.5 376.6 31.8 377.0 31.9 379.8 32.1 380.2 32.2 384.2 31.8 390.6 31.5 391.0 31.5 397.8 31.8 398.2 31.9 399.8 32.1 400.2 32.3 401.8 32.5 402.2 32.7 403.8 32.9 404.2 33.0 406.2 33.3 406.6 33.4 420.6 33.7 421.0 33.8 423.8 34.1 424.2 34.2 425.4 34.5 425.8 34.6 427.4 34.9 427.8 35.0 429.4 35.3 429.8 35.4 431.4 35.7 431.8 35.7 440.6 35.5 441.0 35.6 445.6 37.9 453.8 41.6 459.8 42.0 460.1 49.1 461.8 53.3 463.4 57.3 465.4 58.9 466.2 63.2 470.5 63.5 471.0 60.8 474.2 54.9 476.2 48.4 476.9 42.7 475.8 41.7 475.8 40.9 477.8 36.5 491.8 36.3 493.4 36.0 493.8 35.9 495.4 35.9 501.4 36.1 501.8 36.2 502.6 36.1 512.6 35.8 513.0 35.7 515.4 35.4 515.8 35.3 518.2 35.0 518.6 35.0 529.0 35.3 529.4 35.3 535.4 35.0 535.8 34.9 538.2 34.6 538.6 34.6 540.6 34.3 541.0 34.2 543.0 33.9 543.4 33.9 553.8 34.2 554.2 34.2 561.8 33.9 562.2 33.8 564.6 33.5 565.0 33.5 567.0 33.2 567.4 33.2 571.0 32.9 571.4 32.8 574.2 33.1 574.6 33.1 577.0 33.1 577.8 32.8 577.8Z" fill="#a1a1a1" fill-rule="evenodd" stroke="#000" stroke-width="0.62" stroke-linejoin="round"/>
<path d="M32.8 577.8 21.9 577.8 21.8 402.6 21.9 361.0 22.0 360.9 31.7 361.0 31.6 363.0 31.0 367.8 31.0 371.8 31.4 376.6 32.0 380.6 32.1 384.2 32.0 387.0 31.4 391.0 31.2 395.0 31.4 397.8 32.4 402.6 33.2 407.7 33.3 420.6 33.7 423.8 35.0 429.8 35.5 433.8 35.6 436.2 35.2 441.0 35.2 446.2 35.5 449.8 36.5 456.2 40.1 463.0 40.8 463.7 48.4 465.0 52.4 468.2 56.4 467.8 58.9 470.2 54.9 474.2 52.4 475.5 51.6 476.2 50.8 475.9 47.6 475.8 45.3 475.4 41.2 473.2 40.8 473.0 40.4 473.1 36.8 483.8 35.5 496.2 35.9 509.0 34.6 521.8 34.9 531.4 34.8 534.6 33.6 543.4 33.4 546.6 33.4 549.8 33.8 559.0 32.6 571.4 32.8 577.8Z" fill="#909090" fill-rule="evenodd" stroke="#000" stroke-width="0.62" stroke-linejoin="round"/>
<path d="M32.4 577.8 21.9 577.8 21.8 402.6 21.9 361.0 22.0 360.9 31.6 361.0 30.9 367.8 30.8 371.0 30.9 373.0 31.8 380.6 32.0 384.2 31.1 395.0 31.3 397.8 32.3 402.6 32.8 406.6 33.0 410.6 33.1 421.0 34.8 433.8 34.6 446.2 35.6 456.2 35.8 459.8 35.1 470.6 35.8 483.8 35.6 487.4 34.8 496.6 35.1 508.6 34.0 521.0 34.0 533.8 32.9 546.6 33.0 558.6 32.4 570.6 32.4 577.8ZM47.2 472.2 46.8 472.2 46.2 471.8 46.2 471.4 46.8 470.9 47.2 470.9 47.8 471.4 47.8 471.8 47.2 472.2Z" fill="#7f7f7f" fill-rule="evenodd" stroke="#000" stroke-width="0.62" stroke-linejoin="round"/>
<path d="M32.0 577.8 21.9 577.8 21.8 402.6 21.9 361.0 22.0 360.9 31.4 361.0 30.7 367.8 30.6 371.0 31.7 380.6 31.8 384.2 30.9 395.0 31.2 397.8 32.2 402.6 32.5 406.6 32.8 421.0 34.2 435.0 34.1 447.0 35.1 459.8 34.4 471.0 34.9 485.0 34.1 495.8 34.2 508.6 33.3 521.0 33.2 533.4 32.4 546.6 32.0 577.8Z" fill="#6e6e6e" fill-rule="evenodd" stroke="#000" stroke-width="0.62" stroke-linejoin="round"/>
<path d="M31.6 577.8 21.9 577.8 21.8 402.6 22.0 360.9 31.2 361.0 30.5 367.8 30.5 371.0 31.5 380.6 31.6 384.2 30.8 395.0 31.1 398.2 32.0 402.6 32.5 421.0 33.5 435.0 33.5 447.0 34.3 459.8 33.8 471.0 34.1 485.4 33.5 496.2 33.4 508.2 32.6 521.4 31.5 557.0 31.7 571.8 31.6 577.8Z" fill="#5d5d5d" fill-rule="evenodd" stroke="#000" stroke-width="0.62" stroke-linejoin="round"/>
<path d="M30.8 577.8 21.9 577.8 21.8 402.6 22.0 360.9 31.0 361.0 30.4 367.8 30.3 371.0 31.3 380.6 31.5 384.2 30.6 395.0 31.0 398.2 31.9 402.6 31.8 407.8 32.1 421.0 32.8 433.8 32.9 446.6 33.5 459.8 33.2 471.0 33.3 486.2 31.4 535.0 31.3 547.4 30.7 558.2 31.4 573.4 31.2 577.8 30.8 577.8Z" fill="#4c4c4c" fill-rule="evenodd" stroke="#000" stroke-width="0.62" stroke-linejoin="round"/>
<path d="M30.4 577.8 21.9 577.8 21.8 402.6 22.0 360.9 30.8 361.0 30.2 367.8 30.1 371.0 31.2 380.6 31.3 384.2 30.5 395.0 30.9 398.2 31.7 402.6 31.5 409.8 32.8 460.2 32.4 489.8 31.5 511.4 31.2 523.0 30.5 535.4 30.8 547.4 30.0 558.2 30.1 562.2 31.2 571.8 30.8 577.8 30.4 577.8Z" fill="#3c3c3c" fill-rule="evenodd" stroke="#000" stroke-width="0.62" stroke-linejoin="round"/>
<polygon points="46,404 47.5,402.3 49.6,404.5 48.5,408.3 46.2,407" fill="#fff" stroke="#000" stroke-width="0.65" stroke-linejoin="round"/><polygon points="62.3,433.5 65,430.2 67.6,433.5 65,436.9" fill="#fff" stroke="#000" stroke-width="0.65" stroke-linejoin="round"/><circle cx="84.7" cy="500.2" r="1.0" fill="#fff" stroke="#000" stroke-width="0.6"/><circle cx="89.6" cy="514.2" r="1.1" fill="#fff" stroke="#000" stroke-width="0.6"/><polyline points="41.0,373.5 42.6,373.5" fill="none" stroke="#000" stroke-width="0.65"/><polyline points="41.0,386.8 42.8,386.8" fill="none" stroke="#000" stroke-width="0.65"/><circle cx="51" cy="414.9" r="0.7" fill="#000"/><circle cx="46.3" cy="420.3" r="0.7" fill="#000"/><circle cx="51.6" cy="420.7" r="0.7" fill="#000"/><circle cx="74.9" cy="429.6" r="0.65" fill="#000"/><circle cx="84.8" cy="410.5" r="0.65" fill="#000"/><circle cx="55.9" cy="500.0" r="0.7" fill="#000"/><circle cx="65.3" cy="500.0" r="0.7" fill="#000"/><circle cx="65.3" cy="509.5" r="0.65" fill="#000"/><circle cx="79.7" cy="523.2" r="0.65" fill="#000"/><circle cx="51.6" cy="533.3" r="0.65" fill="#000"/><circle cx="108.5" cy="456.8" r="0.7" fill="#000"/><circle cx="113.7" cy="490.8" r="0.7" fill="#000"/><circle cx="137" cy="414.9" r="0.7" fill="#000"/><circle cx="132.3" cy="537.1" r="0.7" fill="#000"/><circle cx="151.5" cy="556.5" r="0.7" fill="#000"/><polygon points="157,524.8 152.5,528 157,531.2" fill="#fff" stroke="#000" stroke-width="0.65" stroke-linejoin="round"/><circle cx="47" cy="471.6" r="0.8" fill="#000"/><linearGradient id="egc1" gradientUnits="userSpaceOnUse" x1="32.4" y1="0" x2="37.2" y2="0"><stop offset="0" stop-color="#cccccc"/><stop offset="1" stop-color="#f7f7f7"/></linearGradient><polygon points="30.4,362.0 37.2,362.0 37.2,363.0 37.2,364.0 37.2,365.0 37.1,366.0 37.1,367.0 37.1,368.0 37.1,369.0 37.1,370.0 37.1,371.0 37.0,372.0 37.0,373.0 37.0,374.0 37.0,375.0 37.0,376.0 37.0,377.0 36.9,378.0 36.9,379.0 36.9,380.0 36.9,381.0 36.9,382.0 36.8,383.0 36.8,384.0 36.8,385.0 36.8,386.0 36.7,387.0 36.7,388.0 36.7,389.0 36.7,390.0 36.6,391.0 36.6,392.0 36.6,393.0 36.6,394.0 36.5,395.0 36.5,396.0 30.4,396.0" fill="url(#egc1)"/><polyline points="37.33,362.0 37.33,363.0 37.31,364.0 37.25,365.0 37.17,366.0 37.09,367.0 37.01,368.0 36.95,369.0 36.93,370.0 36.93,371.0 36.97,372.0 37.02,373.0 37.07,374.0 37.11,375.0 37.12,376.0 37.11,377.0 37.06,378.0 36.98,379.0 36.89,380.0 36.81,381.0 36.74,382.0 36.69,383.0 36.68,384.0 36.70,385.0 36.73,386.0 36.77,387.0 36.81,388.0 36.83,389.0 36.81,390.0 36.77,391.0 36.70,392.0 36.60,393.0 36.51,394.0 36.42,395.0 36.36,396.0" fill="none" stroke="#000" stroke-width="0.55"/><polyline points="36.22,362.0 36.13,363.0 36.02,364.0 35.92,365.0 35.81,366.0 35.72,367.0 35.65,368.0 35.60,369.0 35.58,370.0 35.59,371.0 35.62,372.0 35.68,373.0 35.75,374.0 35.83,375.0 35.91,376.0 35.99,377.0 36.04,378.0 36.08,379.0 36.10,380.0 36.08,381.0 36.04,382.0 35.97,383.0 35.89,384.0 35.78,385.0 35.67,386.0 35.55,387.0 35.45,388.0 35.36,389.0 35.29,390.0 35.25,391.0 35.24,392.0 35.25,393.0 35.29,394.0 35.35,395.0 35.42,396.0" fill="none" stroke="#000" stroke-width="0.55"/><polyline points="34.32,362.0 34.38,363.0 34.49,364.0 34.64,365.0 34.79,366.0 34.95,367.0 35.08,368.0 35.18,369.0 35.23,370.0 35.22,371.0 35.16,372.0 35.05,373.0 34.90,374.0 34.73,375.0 34.56,376.0 34.39,377.0 34.26,378.0 34.18,379.0 34.15,380.0 34.18,381.0 34.25,382.0 34.37,383.0 34.52,384.0 34.68,385.0 34.82,386.0 34.94,387.0 35.02,388.0 35.04,389.0 35.01,390.0 34.93,391.0 34.80,392.0 34.64,393.0 34.46,394.0 34.28,395.0 34.12,396.0" fill="none" stroke="#000" stroke-width="0.55"/><polyline points="33.85,362.0 33.76,363.0 33.65,364.0 33.54,365.0 33.43,366.0 33.34,367.0 33.28,368.0 33.25,369.0 33.26,370.0 33.30,371.0 33.37,372.0 33.46,373.0 33.57,374.0 33.67,375.0 33.76,376.0 33.82,377.0 33.85,378.0 33.85,379.0 33.81,380.0 33.74,381.0 33.65,382.0 33.54,383.0 33.42,384.0 33.32,385.0 33.23,386.0 33.18,387.0 33.15,388.0 33.17,389.0 33.22,390.0 33.29,391.0 33.39,392.0 33.49,393.0 33.59,394.0 33.67,395.0 33.72,396.0" fill="none" stroke="#000" stroke-width="0.55"/><polyline points="32.26,362.0 32.28,363.0 32.31,364.0 32.34,365.0 32.38,366.0 32.42,367.0 32.46,368.0 32.50,369.0 32.53,370.0 32.54,371.0 32.55,372.0 32.55,373.0 32.53,374.0 32.51,375.0 32.47,376.0 32.43,377.0 32.39,378.0 32.35,379.0 32.32,380.0 32.28,381.0 32.26,382.0 32.25,383.0 32.25,384.0 32.26,385.0 32.28,386.0 32.31,387.0 32.35,388.0 32.39,389.0 32.43,390.0 32.47,391.0 32.50,392.0 32.53,393.0 32.55,394.0 32.55,395.0 32.54,396.0" fill="none" stroke="#000" stroke-width="0.55"/>
</g>
<g stroke="#555" stroke-width="0.9" fill="none">
<rect x="32.4" y="363.7" width="124.00" height="211.70"/>
<line x1="49.35" y1="575.4" x2="49.35" y2="577.4"/>
<line x1="49.35" y1="363.7" x2="49.35" y2="361.7"/>
<line x1="70.80" y1="575.4" x2="70.80" y2="577.4"/>
<line x1="70.80" y1="363.7" x2="70.80" y2="361.7"/>
<line x1="92.25" y1="575.4" x2="92.25" y2="577.4"/>
<line x1="92.25" y1="363.7" x2="92.25" y2="361.7"/>
<line x1="113.70" y1="575.4" x2="113.70" y2="577.4"/>
<line x1="113.70" y1="363.7" x2="113.70" y2="361.7"/>
<line x1="135.15" y1="575.4" x2="135.15" y2="577.4"/>
<line x1="135.15" y1="363.7" x2="135.15" y2="361.7"/>
<line x1="32.4" y1="557.04" x2="30.4" y2="557.04"/>
<line x1="156.4" y1="557.04" x2="158.4" y2="557.04"/>
<line x1="32.4" y1="535.63" x2="30.4" y2="535.63"/>
<line x1="156.4" y1="535.63" x2="158.4" y2="535.63"/>
<line x1="32.4" y1="514.22" x2="30.4" y2="514.22"/>
<line x1="156.4" y1="514.22" x2="158.4" y2="514.22"/>
<line x1="32.4" y1="492.81" x2="30.4" y2="492.81"/>
<line x1="156.4" y1="492.81" x2="158.4" y2="492.81"/>
<line x1="32.4" y1="471.40" x2="30.4" y2="471.40"/>
<line x1="156.4" y1="471.40" x2="158.4" y2="471.40"/>
<line x1="32.4" y1="449.99" x2="30.4" y2="449.99"/>
<line x1="156.4" y1="449.99" x2="158.4" y2="449.99"/>
<line x1="32.4" y1="428.58" x2="30.4" y2="428.58"/>
<line x1="156.4" y1="428.58" x2="158.4" y2="428.58"/>
<line x1="32.4" y1="407.17" x2="30.4" y2="407.17"/>
<line x1="156.4" y1="407.17" x2="158.4" y2="407.17"/>
<line x1="32.4" y1="385.76" x2="30.4" y2="385.76"/>
<line x1="156.4" y1="385.76" x2="158.4" y2="385.76"/>
</g>
<g fill="#000">
<text x="49.3" y="587.7" font-size="9" text-anchor="middle" >10</text>
<text x="70.8" y="587.7" font-size="9" text-anchor="middle" >20</text>
<text x="92.2" y="587.7" font-size="9" text-anchor="middle" >30</text>
<text x="113.7" y="587.7" font-size="9" text-anchor="middle" >40</text>
<text x="135.2" y="587.7" font-size="9" text-anchor="middle" >50</text>
<text x="27.1" y="560.2" font-size="9" text-anchor="end" >−40</text>
<text x="27.1" y="538.8" font-size="9" text-anchor="end" >−30</text>
<text x="27.1" y="517.4" font-size="9" text-anchor="end" >−20</text>
<text x="27.1" y="496.0" font-size="9" text-anchor="end" >−10</text>
<text x="27.1" y="474.6" font-size="9" text-anchor="end" >0</text>
<text x="27.1" y="453.2" font-size="9" text-anchor="end" >10</text>
<text x="27.1" y="431.8" font-size="9" text-anchor="end" >20</text>
<text x="27.1" y="410.4" font-size="9" text-anchor="end" >30</text>
<text x="27.1" y="389.0" font-size="9" text-anchor="end" >40</text>
<text x="93.4" y="600.4" font-size="9" text-anchor="middle"><tspan font-style="italic">B</tspan><tspan font-size="6.5" dy="2">c</tspan><tspan dy="-2"> (mT)</tspan></text>
<text transform="translate(7.7,469.7) rotate(-90)" font-size="9" text-anchor="middle"><tspan font-style="italic">B</tspan><tspan font-size="7.5" dy="2">b</tspan><tspan dy="-2"> (mT)</tspan></text>
<text x="3.9" y="356.0" font-size="9" text-anchor="start" >(<tspan font-style="italic">c</tspan>)</text>
<text x="31.8" y="356.0" font-size="9" text-anchor="start" >HM2b (SF=3)</text>
<rect x="172.0" y="363.8" width="17.60" height="211.60" fill="url(#gradc)" stroke="#555" stroke-width="0.9"/>
<g stroke="#222" stroke-width="0.9">
<line x1="172.0" y1="563.50" x2="173.8" y2="563.50"/><line x1="189.6" y1="563.50" x2="187.79999999999998" y2="563.50"/>
<line x1="172.0" y1="476.20" x2="173.8" y2="476.20"/><line x1="189.6" y1="476.20" x2="187.79999999999998" y2="476.20"/>
<line x1="172.0" y1="388.90" x2="173.8" y2="388.90"/><line x1="189.6" y1="388.90" x2="187.79999999999998" y2="388.90"/>
</g>
<text x="192.4" y="566.4" font-size="9" text-anchor="start" >0</text>
<text x="192.4" y="479.1" font-size="9" text-anchor="start" >1</text>
<text x="192.4" y="391.8" font-size="9" text-anchor="start" >2</text>
<text x="189.3" y="360.0" font-size="9"><tspan font-size="10.5">×</tspan> 10<tspan font-size="7.6" dy="-3.6">−11</tspan></text>
<g stroke="#555" stroke-width="0.9" fill="none">
<rect x="32.5" y="613.3" width="120.50" height="41.30"/>
<line x1="72.67" y1="654.6" x2="72.67" y2="653.1"/><line x1="72.67" y1="613.3" x2="72.67" y2="614.8"/>
<line x1="112.83" y1="654.6" x2="112.83" y2="653.1"/><line x1="112.83" y1="613.3" x2="112.83" y2="614.8"/>
<line x1="32.5" y1="627.5" x2="34.0" y2="627.5"/><line x1="153.0" y1="627.5" x2="151.5" y2="627.5"/>
<line x1="32.5" y1="641.2" x2="34.0" y2="641.2"/><line x1="153.0" y1="641.2" x2="151.5" y2="641.2"/>
</g>
<text x="30.0" y="616.5" font-size="9" text-anchor="end" >3</text>
<text x="30.0" y="630.7" font-size="9" text-anchor="end" >2</text>
<text x="30.0" y="644.4" font-size="9" text-anchor="end" >1</text>
<text x="29.0" y="663.5" font-size="9" text-anchor="middle" >0</text>
<text x="72.7" y="662.6" font-size="9" text-anchor="middle" >20</text>
<text x="112.8" y="662.6" font-size="9" text-anchor="middle" >40</text>
<text x="153.0" y="662.6" font-size="9" text-anchor="middle" >60</text>
<text x="92.8" y="674.6" font-size="9" text-anchor="middle"><tspan font-style="italic">B</tspan><tspan font-size="6.5" dy="2">c</tspan><tspan dy="-2"> (mT)</tspan></text>
<text x="32.5" y="611.0" font-size="9"><tspan font-size="10.5">×</tspan> 10<tspan font-size="7.6" dy="-3.6">−11</tspan></text>
<polyline fill="none" stroke="#000" stroke-width="1.3" stroke-linejoin="round" points="36.9,620.6 41.5,630.8 46.0,637.6 49.8,635.7 54.7,637.2 60.3,639.1 67.1,640.2 69.7,642.9 79.2,644.8 86.7,646.6 96.1,647.8 101.8,648.9 111.2,651.5 118.7,650.4 124.4,652.7 130.0,652.3 135.7,653.4 143.2,653.4 148.9,652.7 152.7,654.2"/>
</g>
<g clip-path="url(#clipd)">
<path d="M266.0 578.8 255.9 578.8 256.0 361.9 265.6 362.0 265.6 364.0 273.2 364.0 273.6 364.4 273.8 365.2 275.5 372.0 277.2 380.0 279.6 382.4 283.2 383.9 288.0 385.2 288.9 385.6 290.1 386.8 290.1 387.2 287.3 390.0 282.8 392.2 278.7 394.8 278.0 398.8 278.0 403.2 280.0 405.3 284.0 406.0 288.5 402.8 288.7 402.4 288.1 399.2 288.8 395.6 291.6 397.6 291.8 398.0 292.0 409.6 293.8 414.4 296.0 418.0 300.0 416.7 301.0 418.4 300.9 418.8 298.0 422.0 298.6 426.8 300.2 432.4 302.6 437.2 306.8 441.4 310.5 444.0 311.2 447.2 309.9 450.8 310.2 454.8 311.0 458.4 315.2 461.1 315.6 461.1 319.1 457.6 320.6 453.2 321.2 446.8 321.6 446.4 323.6 445.5 324.0 445.2 326.8 444.6 328.3 446.8 328.1 447.6 328.0 449.6 327.7 450.8 327.6 452.8 326.5 455.2 326.4 456.0 323.3 462.0 323.6 462.3 326.8 462.8 327.6 463.1 334.8 464.0 336.8 466.4 337.4 467.6 337.2 468.4 335.6 472.8 330.8 477.6 327.2 480.4 326.3 480.4 322.4 478.9 317.2 478.1 312.9 483.2 310.8 490.8 307.3 497.6 305.6 502.8 306.1 503.6 308.8 506.8 308.9 507.2 308.8 509.2 308.5 510.0 308.4 511.2 307.8 512.0 304.0 514.2 301.2 517.2 300.4 521.2 300.1 521.6 295.6 525.3 292.1 528.8 288.8 532.9 284.4 532.8 283.2 526.0 281.8 527.6 281.0 532.8 278.4 540.2 278.3 540.8 278.0 541.2 277.9 543.6 277.5 544.0 277.5 546.4 277.1 546.8 277.1 548.4 276.7 548.8 276.7 550.0 276.4 550.4 276.3 552.0 276.0 552.4 275.9 554.0 275.6 554.4 275.5 556.0 275.2 556.4 275.1 558.0 274.8 558.4 274.7 560.0 274.4 560.4 274.4 562.0 274.0 562.4 274.0 564.4 273.6 565.2 273.6 567.2 273.5 567.6 273.2 568.0 273.1 570.4 272.8 571.2 272.8 572.8 272.4 573.6 272.4 574.8 272.0 575.2 271.9 577.2 271.2 578.4 266.4 578.4 266.4 578.8 266.0 578.8Z" fill="#f5f5f5" fill-rule="evenodd" stroke="#000" stroke-width="0.65" stroke-linejoin="round"/>
<path d="M266.0 578.8 255.9 578.8 256.0 361.9 265.5 362.0 265.6 364.1 270.8 364.4 274.7 385.2 276.6 400.0 277.1 408.0 277.2 412.4 277.5 414.4 277.6 418.4 279.1 418.8 282.8 419.3 287.2 421.3 291.4 424.8 293.2 428.4 295.2 433.7 296.6 440.0 297.3 445.2 299.3 449.2 302.6 453.2 305.2 457.2 306.9 462.0 310.9 470.8 311.8 475.2 311.4 475.6 306.8 478.0 297.8 481.6 292.4 485.2 292.3 486.0 292.0 486.4 291.9 487.2 291.6 487.6 288.9 495.6 287.6 496.6 284.7 498.4 282.0 500.9 281.6 501.5 280.3 505.2 280.0 505.6 279.2 520.4 279.1 526.4 278.0 539.0 277.7 541.2 277.6 543.6 277.3 544.0 277.2 546.4 276.9 546.8 276.8 548.4 276.5 548.8 276.4 550.0 276.1 550.4 276.0 552.0 275.7 552.4 275.6 554.0 275.3 554.4 275.2 556.0 274.9 556.4 274.8 558.0 274.5 558.4 274.4 560.0 274.1 560.4 274.0 562.0 273.7 562.4 273.6 564.4 273.3 564.8 273.2 566.9 272.9 567.6 272.8 569.6 272.5 570.4 272.0 574.8 271.7 575.2 271.6 577.2 271.2 578.0 266.4 578.3 266.3 578.8 266.0 578.8Z" fill="#e4e4e4" fill-rule="evenodd" stroke="#000" stroke-width="0.65" stroke-linejoin="round"/>
<path d="M266.0 578.8 256.0 578.8 256.0 362.0 265.5 362.0 265.6 364.2 268.4 364.4 273.2 386.4 275.2 400.0 276.4 412.9 277.2 424.4 277.5 426.0 281.3 428.0 283.8 431.6 286.0 435.9 288.6 440.0 290.0 444.0 290.8 449.5 292.8 452.8 295.9 456.4 297.7 471.6 297.6 472.0 294.9 476.4 290.5 480.0 285.4 490.4 281.8 493.2 281.2 494.0 280.8 495.2 280.4 495.6 280.4 496.0 280.0 496.4 279.9 497.6 279.6 498.0 279.5 499.2 279.2 499.6 279.1 501.2 278.8 501.6 278.7 504.0 278.3 504.4 278.3 506.4 278.0 506.8 277.8 526.0 276.0 545.2 272.5 562.0 270.0 578.0 266.4 578.2 266.3 578.8 266.0 578.8Z" fill="#d3d3d3" fill-rule="evenodd" stroke="#000" stroke-width="0.65" stroke-linejoin="round"/>
<path d="M266.0 578.8 256.0 578.8 256.0 362.0 265.4 362.0 265.4 364.0 265.6 364.3 266.5 364.4 271.1 385.2 276.7 429.2 276.8 431.3 277.1 432.4 277.2 434.8 277.6 436.2 279.9 439.6 280.8 445.6 282.4 448.8 282.8 449.3 286.0 451.2 288.0 456.0 288.0 463.6 289.7 469.2 287.1 473.6 283.6 478.0 281.8 484.0 281.7 490.0 280.5 494.0 280.4 494.8 280.1 495.2 280.0 496.0 279.6 496.4 279.6 497.6 279.2 498.0 279.2 499.2 278.8 499.6 278.8 501.2 278.5 501.6 278.4 504.0 278.1 504.4 278.0 506.4 277.7 506.8 276.4 526.0 274.5 545.2 271.0 562.0 268.8 578.0 266.4 578.2 266.2 578.8 266.0 578.8Z" fill="#c2c2c2" fill-rule="evenodd" stroke="#000" stroke-width="0.65" stroke-linejoin="round"/>
<path d="M266.0 578.8 256.0 578.8 256.0 362.0 265.4 362.0 265.4 364.0 265.6 365.2 265.9 365.6 266.0 367.9 269.5 385.2 272.2 406.8 274.8 423.7 277.0 440.0 276.8 449.2 280.0 451.2 281.9 454.4 282.8 459.8 284.4 466.4 284.2 467.2 282.8 470.8 280.0 474.7 278.6 480.0 278.2 490.4 276.5 504.8 275.0 526.0 273.0 544.8 269.8 562.0 267.9 577.2 267.6 578.0 266.4 578.1 266.2 578.4 266.1 578.8 266.0 578.8Z" fill="#b1b1b1" fill-rule="evenodd" stroke="#000" stroke-width="0.65" stroke-linejoin="round"/>
<path d="M266.0 578.8 256.0 578.8 256.0 362.0 265.3 362.0 265.5 365.2 265.8 365.6 265.9 370.4 266.3 370.8 266.4 376.0 266.7 376.4 266.8 378.0 268.2 385.2 273.0 424.8 275.0 440.0 276.4 456.0 276.7 457.2 280.1 461.2 282.0 465.8 283.1 467.6 282.7 468.0 282.7 468.4 281.9 469.2 281.9 469.6 281.2 470.4 281.1 470.8 280.4 471.6 280.3 472.0 279.5 472.8 279.5 473.2 278.8 473.9 278.4 474.0 277.2 474.8 276.8 476.8 275.6 489.6 274.5 504.8 273.8 526.0 271.5 544.8 268.5 562.0 266.8 578.0 266.4 578.0 266.0 578.8Z" fill="#a1a1a1" fill-rule="evenodd" stroke="#000" stroke-width="0.65" stroke-linejoin="round"/>
<path d="M266.0 578.8 256.0 578.8 256.0 362.0 265.2 362.0 265.3 365.2 265.7 365.6 265.8 370.4 266.1 370.8 266.2 376.0 266.5 376.4 266.7 381.6 267.0 382.0 267.2 386.8 267.5 387.2 267.6 392.4 267.9 392.8 268.0 397.6 268.4 398.0 268.4 401.2 268.5 401.6 268.8 402.0 268.9 405.2 269.2 406.0 269.3 409.2 269.6 410.0 269.7 413.6 270.0 414.4 270.1 418.0 270.4 418.4 270.4 421.6 270.8 422.0 270.8 424.8 271.1 425.2 271.2 428.4 271.6 428.8 271.7 432.0 272.0 432.4 272.1 434.8 272.4 435.6 272.9 441.2 273.2 442.0 273.3 444.8 273.6 445.6 273.7 448.4 274.0 448.8 274.0 451.6 274.3 452.0 274.4 454.8 274.7 455.2 274.8 458.0 275.1 458.4 275.2 460.1 278.0 461.5 279.1 462.8 279.6 462.5 280.8 464.8 282.4 466.8 282.8 467.6 281.7 469.2 281.6 469.6 280.9 470.4 280.8 470.8 280.1 471.6 280.0 472.0 279.2 472.8 279.2 473.2 278.8 473.6 277.6 474.0 276.8 474.8 275.2 475.8 274.9 492.8 274.6 493.2 274.5 498.4 274.2 498.8 274.1 504.4 273.8 504.8 273.8 510.0 273.4 510.4 273.4 515.6 273.1 516.0 273.0 521.6 272.7 522.0 272.6 526.8 272.3 527.2 272.2 530.0 271.9 530.4 271.8 533.2 271.5 533.6 271.4 536.4 271.1 536.8 271.0 539.6 270.7 540.0 270.6 542.8 270.3 543.2 270.2 546.0 269.9 546.4 269.8 549.2 269.5 549.6 269.4 552.4 269.1 552.8 269.0 555.6 268.7 556.0 268.6 558.8 268.2 559.2 268.1 562.0 267.8 562.4 267.7 565.2 267.4 565.6 267.4 568.4 267.1 568.8 267.0 571.6 266.7 572.0 266.6 574.8 266.3 575.2 266.0 578.8Z" fill="#909090" fill-rule="evenodd" stroke="#000" stroke-width="0.65" stroke-linejoin="round"/>
<path d="M265.2 578.8 256.0 578.8 256.0 362.0 265.0 362.0 265.0 364.0 266.4 379.4 268.0 406.0 271.8 440.0 274.3 460.0 274.2 490.0 271.6 526.0 268.1 556.0 266.4 572.4 265.5 578.8 265.2 578.8ZM279.6 471.2 278.7 470.4 276.3 467.2 276.3 466.8 276.6 466.4 278.4 464.0 279.6 462.8 279.6 463.2 280.0 463.6 280.0 464.0 280.4 464.4 280.4 464.8 280.8 465.3 281.9 467.6 279.6 471.2Z" fill="#7f7f7f" fill-rule="evenodd" stroke="#000" stroke-width="0.65" stroke-linejoin="round"/>
<path d="M264.4 578.8 256.0 578.8 256.0 362.0 264.0 362.0 264.0 364.0 264.9 370.4 266.0 380.0 266.2 391.6 266.8 406.0 270.4 440.0 272.8 460.0 273.0 466.0 272.6 490.0 269.8 526.0 266.5 557.6 265.9 566.8 265.8 572.4 264.4 578.8Z" fill="#6e6e6e" fill-rule="evenodd" stroke="#000" stroke-width="0.65" stroke-linejoin="round"/>
<path d="M263.2 578.8 256.0 578.8 256.0 362.0 263.0 362.0 263.0 364.0 264.3 370.4 265.5 380.0 265.3 392.0 265.6 406.4 268.4 434.4 271.4 460.0 271.6 466.0 271.0 490.0 268.7 518.4 266.2 543.6 265.3 556.0 264.9 566.0 265.2 572.4 264.4 575.5 263.5 578.0 263.5 578.8 263.2 578.8Z" fill="#5d5d5d" fill-rule="evenodd" stroke="#000" stroke-width="0.65" stroke-linejoin="round"/>
<path d="M262.4 578.8 256.0 578.8 256.0 362.0 262.0 362.0 262.0 364.0 263.5 370.0 264.8 378.0 265.1 380.4 264.4 391.2 264.4 406.0 266.6 430.4 269.9 460.0 270.3 466.0 269.4 490.0 265.0 538.4 264.1 552.0 263.8 558.8 263.8 565.2 264.1 569.2 264.6 572.4 263.6 575.6 262.5 578.0 262.4 578.8Z" fill="#4c4c4c" fill-rule="evenodd" stroke="#000" stroke-width="0.65" stroke-linejoin="round"/>
<path d="M261.2 578.8 256.0 578.8 256.0 362.0 261.0 362.0 261.0 364.0 262.0 366.9 262.9 370.4 264.6 380.0 263.9 386.0 263.5 391.6 263.2 406.0 264.8 426.4 268.4 460.0 268.9 466.0 267.8 490.0 263.9 531.2 262.7 548.8 262.5 557.2 262.7 564.4 263.2 568.8 264.1 572.4 262.8 575.6 261.5 578.0 261.5 578.8 261.2 578.8Z" fill="#3c3c3c" fill-rule="evenodd" stroke="#000" stroke-width="0.65" stroke-linejoin="round"/>
<circle cx="343.3" cy="370.5" r="0.65" fill="#000"/><circle cx="348.8" cy="380.3" r="0.8" fill="#000"/><circle cx="365.6" cy="424.2" r="0.65" fill="#000"/><circle cx="387.8" cy="440.6" r="0.65" fill="#000"/><polygon points="393.5,384.5 390.8,386.5 392,392 393.5,392" fill="#fff" stroke="#000" stroke-width="0.65" stroke-linejoin="round"/><polygon points="393.5,434 391,436 393.5,437.6" fill="#fff" stroke="#000" stroke-width="0.65" stroke-linejoin="round"/><polygon points="393.5,443.5 391,445.5 392,447.8 393.5,447.8" fill="#fff" stroke="#000" stroke-width="0.65" stroke-linejoin="round"/><polygon points="394,469.2 389.2,473.5 394,477.8" fill="#fff" stroke="#000" stroke-width="0.65" stroke-linejoin="round"/><polygon points="385.6,451.2 382.2,457.7 389,457.7" fill="#fff" stroke="#000" stroke-width="0.65" stroke-linejoin="round"/><circle cx="381.5" cy="495.4" r="1.1" fill="#fff" stroke="#000" stroke-width="0.6"/><polygon points="393.5,508.5 392,510.5 393.5,512.5" fill="#fff" stroke="#000" stroke-width="0.65" stroke-linejoin="round"/><circle cx="316.2" cy="500.4" r="0.65" fill="#000"/><polyline points="303.5,527.4 305.2,527.4" fill="none" stroke="#000" stroke-width="0.65"/><circle cx="371.2" cy="527.6" r="0.65" fill="#000"/><circle cx="365.7" cy="571" r="0.65" fill="#000"/><polygon points="334.8,577 338.5,572 343.2,577" fill="#fff" stroke="#000" stroke-width="0.65" stroke-linejoin="round"/><circle cx="333.2" cy="473.2" r="0.75" fill="#000"/><circle cx="292.8" cy="392.2" r="0.9" fill="#fff" stroke="#000" stroke-width="0.6"/><circle cx="310.6" cy="413.3" r="0.65" fill="#000"/><circle cx="326.8" cy="424.5" r="0.65" fill="#000"/><polygon points="299.3,445.5 300.6,446 300.2,449.9 299,449" fill="#666" stroke="#000" stroke-width="0.65" stroke-linejoin="round"/>
</g>
<g stroke="#555" stroke-width="0.9" fill="none">
<rect x="266.7" y="364.8" width="125.90" height="210.90"/>
<line x1="284.25" y1="575.7" x2="284.25" y2="577.7"/>
<line x1="284.25" y1="364.8" x2="284.25" y2="362.8"/>
<line x1="306.30" y1="575.7" x2="306.30" y2="577.7"/>
<line x1="306.30" y1="364.8" x2="306.30" y2="362.8"/>
<line x1="328.35" y1="575.7" x2="328.35" y2="577.7"/>
<line x1="328.35" y1="364.8" x2="328.35" y2="362.8"/>
<line x1="350.40" y1="575.7" x2="350.40" y2="577.7"/>
<line x1="350.40" y1="364.8" x2="350.40" y2="362.8"/>
<line x1="372.45" y1="575.7" x2="372.45" y2="577.7"/>
<line x1="372.45" y1="364.8" x2="372.45" y2="362.8"/>
<line x1="266.7" y1="558.70" x2="264.7" y2="558.70"/>
<line x1="392.6" y1="558.70" x2="394.6" y2="558.70"/>
<line x1="266.7" y1="536.58" x2="264.7" y2="536.58"/>
<line x1="392.6" y1="536.58" x2="394.6" y2="536.58"/>
<line x1="266.7" y1="514.45" x2="264.7" y2="514.45"/>
<line x1="392.6" y1="514.45" x2="394.6" y2="514.45"/>
<line x1="266.7" y1="492.32" x2="264.7" y2="492.32"/>
<line x1="392.6" y1="492.32" x2="394.6" y2="492.32"/>
<line x1="266.7" y1="470.20" x2="264.7" y2="470.20"/>
<line x1="392.6" y1="470.20" x2="394.6" y2="470.20"/>
<line x1="266.7" y1="448.07" x2="264.7" y2="448.07"/>
<line x1="392.6" y1="448.07" x2="394.6" y2="448.07"/>
<line x1="266.7" y1="425.95" x2="264.7" y2="425.95"/>
<line x1="392.6" y1="425.95" x2="394.6" y2="425.95"/>
<line x1="266.7" y1="403.82" x2="264.7" y2="403.82"/>
<line x1="392.6" y1="403.82" x2="394.6" y2="403.82"/>
<line x1="266.7" y1="381.70" x2="264.7" y2="381.70"/>
<line x1="392.6" y1="381.70" x2="394.6" y2="381.70"/>
</g>
<g fill="#000">
<text x="284.2" y="588.0" font-size="9" text-anchor="middle" >10</text>
<text x="306.3" y="588.0" font-size="9" text-anchor="middle" >20</text>
<text x="328.4" y="588.0" font-size="9" text-anchor="middle" >30</text>
<text x="350.4" y="588.0" font-size="9" text-anchor="middle" >40</text>
<text x="372.4" y="588.0" font-size="9" text-anchor="middle" >50</text>
<text x="261.4" y="561.9" font-size="9" text-anchor="end" >−40</text>
<text x="261.4" y="539.8" font-size="9" text-anchor="end" >−30</text>
<text x="261.4" y="517.7" font-size="9" text-anchor="end" >−20</text>
<text x="261.4" y="495.5" font-size="9" text-anchor="end" >−10</text>
<text x="261.4" y="473.4" font-size="9" text-anchor="end" >0</text>
<text x="261.4" y="451.3" font-size="9" text-anchor="end" >10</text>
<text x="261.4" y="429.1" font-size="9" text-anchor="end" >20</text>
<text x="261.4" y="407.0" font-size="9" text-anchor="end" >30</text>
<text x="261.4" y="384.9" font-size="9" text-anchor="end" >40</text>
<text x="328.6" y="600.7" font-size="9" text-anchor="middle"><tspan font-style="italic">B</tspan><tspan font-size="6.5" dy="2">c</tspan><tspan dy="-2"> (mT)</tspan></text>
<text transform="translate(238.9,469.9) rotate(-90)" font-size="9" text-anchor="middle"><tspan font-style="italic">B</tspan><tspan font-size="7.5" dy="2">b</tspan><tspan dy="-2"> (mT)</tspan></text>
<text x="235.0" y="355.2" font-size="9" text-anchor="start" >(<tspan font-style="italic">d</tspan>)</text>
<text x="266.1" y="356.0" font-size="9" text-anchor="start" >HH (SF=4)</text>
<rect x="405.1" y="364.8" width="17.80" height="210.90" fill="url(#gradd)" stroke="#555" stroke-width="0.9"/>
<g stroke="#222" stroke-width="0.9">
<line x1="405.1" y1="560.40" x2="406.90000000000003" y2="560.40"/><line x1="422.9" y1="560.40" x2="421.09999999999997" y2="560.40"/>
<line x1="405.1" y1="520.32" x2="406.90000000000003" y2="520.32"/><line x1="422.9" y1="520.32" x2="421.09999999999997" y2="520.32"/>
<line x1="405.1" y1="480.24" x2="406.90000000000003" y2="480.24"/><line x1="422.9" y1="480.24" x2="421.09999999999997" y2="480.24"/>
<line x1="405.1" y1="440.16" x2="406.90000000000003" y2="440.16"/><line x1="422.9" y1="440.16" x2="421.09999999999997" y2="440.16"/>
<line x1="405.1" y1="400.08" x2="406.90000000000003" y2="400.08"/><line x1="422.9" y1="400.08" x2="421.09999999999997" y2="400.08"/>
<line x1="405.1" y1="540.36" x2="406.90000000000003" y2="540.36"/><line x1="422.9" y1="540.36" x2="421.09999999999997" y2="540.36"/>
<line x1="405.1" y1="500.28" x2="406.90000000000003" y2="500.28"/><line x1="422.9" y1="500.28" x2="421.09999999999997" y2="500.28"/>
<line x1="405.1" y1="460.20" x2="406.90000000000003" y2="460.20"/><line x1="422.9" y1="460.20" x2="421.09999999999997" y2="460.20"/>
<line x1="405.1" y1="420.12" x2="406.90000000000003" y2="420.12"/><line x1="422.9" y1="420.12" x2="421.09999999999997" y2="420.12"/>
<line x1="405.1" y1="380.04" x2="406.90000000000003" y2="380.04"/><line x1="422.9" y1="380.04" x2="421.09999999999997" y2="380.04"/>
</g>
<text x="425.7" y="563.3" font-size="9" text-anchor="start" >0</text>
<text x="425.7" y="523.2" font-size="9" text-anchor="start" >1</text>
<text x="425.7" y="483.1" font-size="9" text-anchor="start" >2</text>
<text x="425.7" y="443.1" font-size="9" text-anchor="start" >3</text>
<text x="425.7" y="403.0" font-size="9" text-anchor="start" >4</text>
<text x="423.1" y="358.0" font-size="9"><tspan font-size="10.5">×</tspan> 10<tspan font-size="7.6" dy="-3.6">−12</tspan></text>
<g stroke="#555" stroke-width="0.9" fill="none">
<rect x="265.3" y="613.0" width="127.40" height="43.40"/>
<line x1="307.77" y1="656.4" x2="307.77" y2="654.9"/><line x1="307.77" y1="613.0" x2="307.77" y2="614.5"/>
<line x1="350.23" y1="656.4" x2="350.23" y2="654.9"/><line x1="350.23" y1="613.0" x2="350.23" y2="614.5"/>
<line x1="265.3" y1="627.5" x2="266.8" y2="627.5"/><line x1="392.7" y1="627.5" x2="391.2" y2="627.5"/>
<line x1="265.3" y1="641.9" x2="266.8" y2="641.9"/><line x1="392.7" y1="641.9" x2="391.2" y2="641.9"/>
</g>
<text x="262.8" y="616.2" font-size="9" text-anchor="end" >6</text>
<text x="262.8" y="630.7" font-size="9" text-anchor="end" >4</text>
<text x="262.8" y="645.1" font-size="9" text-anchor="end" >2</text>
<text x="262.0" y="663.0" font-size="9" text-anchor="middle" >0</text>
<text x="307.8" y="664.4" font-size="9" text-anchor="middle" >20</text>
<text x="350.2" y="664.4" font-size="9" text-anchor="middle" >40</text>
<text x="392.7" y="664.4" font-size="9" text-anchor="middle" >60</text>
<text x="329.0" y="676.4" font-size="9" text-anchor="middle"><tspan font-style="italic">B</tspan><tspan font-size="6.5" dy="2">c</tspan><tspan dy="-2"> (mT)</tspan></text>
<text x="265.3" y="610.0" font-size="9"><tspan font-size="10.5">×</tspan> 10<tspan font-size="7.6" dy="-3.6">−12</tspan></text>
<polyline fill="none" stroke="#000" stroke-width="1.3" stroke-linejoin="round" points="270.9,618.6 275.9,628.0 281.9,633.9 286.9,638.9 292.9,641.5 300.0,644.1 306.7,647.9 312.2,651.2 316.6,651.2 322.2,650.1 327.7,650.5 334.4,651.7 338.8,652.3 344.3,653.4 349.9,652.3 355.4,652.8 359.9,653.4 365.4,651.9 371.0,652.3 375.4,654.5 379.8,655.0 385.4,653.4 390.9,652.3"/>
</g>
</svg></body></html>
